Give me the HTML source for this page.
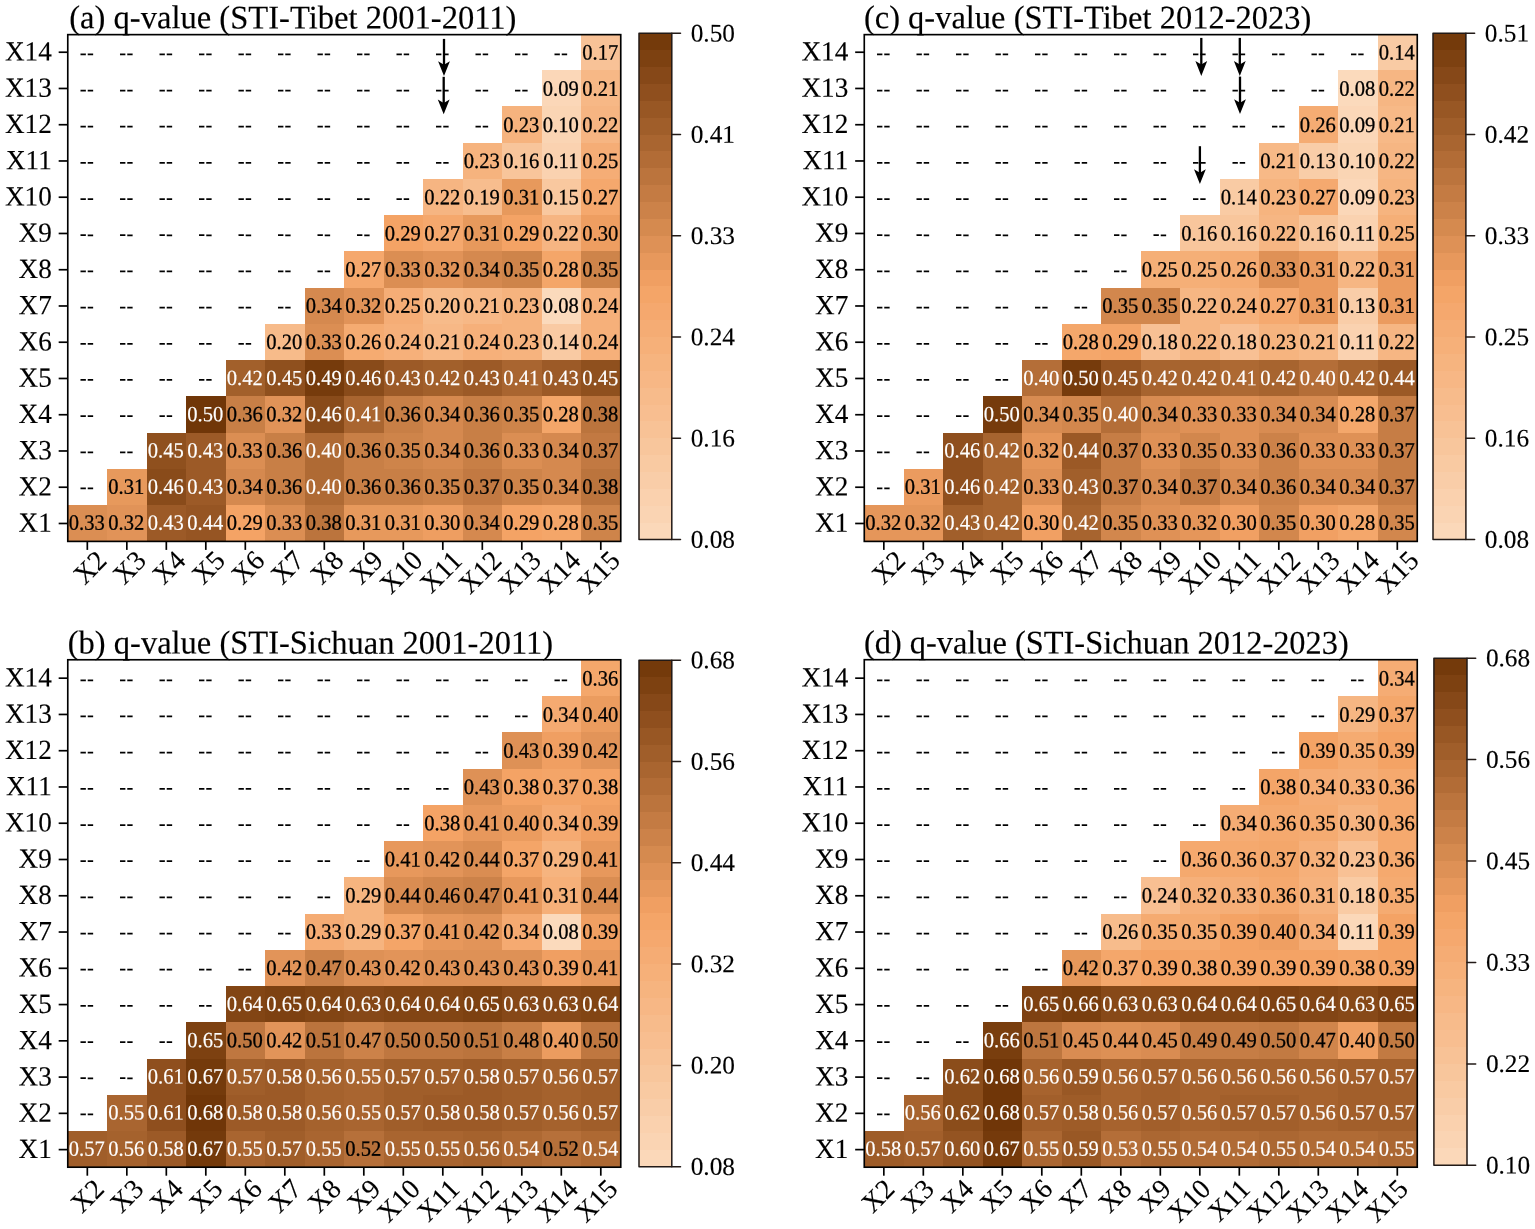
<!DOCTYPE html>
<html lang="en"><head><meta charset="utf-8"><title>q-value heatmaps</title>
<style>
html,body{margin:0;padding:0;background:#fff;}
body{width:1535px;height:1229px;overflow:hidden;}
svg{display:block;}
text{font-family:"Liberation Serif",serif;fill:#000;stroke:#000;stroke-width:0.14;text-rendering:geometricPrecision;}
.tl{font-size:27.2px;}
.tt{font-size:32.65px;}
.cl{font-size:25.3px;}
.cv{font-size:20.6px;text-anchor:middle;stroke-width:0.26;}
.w{fill:#fff;stroke:#fff;stroke-width:0.15;}
.hy{stroke-width:0.05;letter-spacing:0.6px;}
.ax{fill:none;stroke:#000;stroke-width:1.65;}
.tk{stroke:#000;stroke-width:1.7;fill:none;}
.cb{fill:none;stroke:#221a17;stroke-width:1.5;stroke-linejoin:round;stroke-linecap:round;}
.ar{stroke:#000;stroke-width:2.3;fill:none;}
</style></head><body>
<svg width="1535" height="1229" viewBox="0 0 1535 1229" role="img" aria-label="q-value interaction heatmaps">
<rect width="1535" height="1229" fill="#fff"/>
<g id="panel-a">
<g shape-rendering="crispEdges">
<rect x="581.25" y="33.85" width="39.5" height="36.75" fill="#f8c297"/>
<rect x="541.75" y="70.1" width="40" height="36.75" fill="#fbd7b8"/>
<rect x="581.25" y="70.1" width="39.5" height="36.75" fill="#f7b886"/>
<rect x="502.25" y="106.35" width="40" height="36.75" fill="#f6b37e"/>
<rect x="541.75" y="106.35" width="40" height="36.75" fill="#fad5b4"/>
<rect x="581.25" y="106.35" width="39.5" height="36.75" fill="#f6b582"/>
<rect x="462.76" y="142.6" width="40" height="36.75" fill="#f6b37e"/>
<rect x="502.25" y="142.6" width="40" height="36.75" fill="#f8c59b"/>
<rect x="541.75" y="142.6" width="40" height="36.75" fill="#fad2b0"/>
<rect x="581.25" y="142.6" width="39.5" height="36.75" fill="#f5ad76"/>
<rect x="423.26" y="178.85" width="40" height="36.75" fill="#f6b582"/>
<rect x="462.76" y="178.85" width="40" height="36.75" fill="#f7bd8e"/>
<rect x="502.25" y="178.85" width="40" height="36.75" fill="#e7995c"/>
<rect x="541.75" y="178.85" width="40" height="36.75" fill="#f9c89f"/>
<rect x="581.25" y="178.85" width="39.5" height="36.75" fill="#f5a86d"/>
<rect x="383.76" y="215.1" width="40" height="36.75" fill="#f4a365"/>
<rect x="423.26" y="215.1" width="40" height="36.75" fill="#f5a86d"/>
<rect x="462.76" y="215.1" width="40" height="36.75" fill="#e7995c"/>
<rect x="502.25" y="215.1" width="40" height="36.75" fill="#f4a365"/>
<rect x="541.75" y="215.1" width="40" height="36.75" fill="#f6b582"/>
<rect x="581.25" y="215.1" width="39.5" height="36.75" fill="#ee9e61"/>
<rect x="344.26" y="251.35" width="40" height="36.75" fill="#f5a86d"/>
<rect x="383.76" y="251.35" width="40" height="36.75" fill="#db8e53"/>
<rect x="423.26" y="251.35" width="40" height="36.75" fill="#e19358"/>
<rect x="462.76" y="251.35" width="40" height="36.75" fill="#d5894f"/>
<rect x="502.25" y="251.35" width="40" height="36.75" fill="#ce844a"/>
<rect x="541.75" y="251.35" width="40" height="36.75" fill="#f4a669"/>
<rect x="581.25" y="251.35" width="39.5" height="36.75" fill="#ce844a"/>
<rect x="304.76" y="287.6" width="40" height="36.75" fill="#d5894f"/>
<rect x="344.26" y="287.6" width="40" height="36.75" fill="#e19358"/>
<rect x="383.76" y="287.6" width="40" height="36.75" fill="#f5ad76"/>
<rect x="423.26" y="287.6" width="40" height="36.75" fill="#f7bb8a"/>
<rect x="462.76" y="287.6" width="40" height="36.75" fill="#f7b886"/>
<rect x="502.25" y="287.6" width="40" height="36.75" fill="#f6b37e"/>
<rect x="541.75" y="287.6" width="40" height="36.75" fill="#fbdabc"/>
<rect x="581.25" y="287.6" width="39.5" height="36.75" fill="#f6b07a"/>
<rect x="265.26" y="323.85" width="40" height="36.75" fill="#f7bb8a"/>
<rect x="304.76" y="323.85" width="40" height="36.75" fill="#db8e53"/>
<rect x="344.26" y="323.85" width="40" height="36.75" fill="#f5ab71"/>
<rect x="383.76" y="323.85" width="40" height="36.75" fill="#f6b07a"/>
<rect x="423.26" y="323.85" width="40" height="36.75" fill="#f7b886"/>
<rect x="462.76" y="323.85" width="40" height="36.75" fill="#f6b07a"/>
<rect x="502.25" y="323.85" width="40" height="36.75" fill="#f6b37e"/>
<rect x="541.75" y="323.85" width="40" height="36.75" fill="#f9caa3"/>
<rect x="581.25" y="323.85" width="39.5" height="36.75" fill="#f6b07a"/>
<rect x="225.76" y="360.1" width="40" height="36.75" fill="#a2602b"/>
<rect x="265.26" y="360.1" width="40" height="36.75" fill="#8f501e"/>
<rect x="304.76" y="360.1" width="40" height="36.75" fill="#763b0c"/>
<rect x="344.26" y="360.1" width="40" height="36.75" fill="#894b1a"/>
<rect x="383.76" y="360.1" width="40" height="36.75" fill="#9c5a27"/>
<rect x="423.26" y="360.1" width="40" height="36.75" fill="#a2602b"/>
<rect x="462.76" y="360.1" width="40" height="36.75" fill="#9c5a27"/>
<rect x="502.25" y="360.1" width="40" height="36.75" fill="#a96530"/>
<rect x="541.75" y="360.1" width="40" height="36.75" fill="#9c5a27"/>
<rect x="581.25" y="360.1" width="39.5" height="36.75" fill="#8f501e"/>
<rect x="186.27" y="396.35" width="40" height="36.75" fill="#703608"/>
<rect x="225.76" y="396.35" width="40" height="36.75" fill="#c87f46"/>
<rect x="265.26" y="396.35" width="40" height="36.75" fill="#e19358"/>
<rect x="304.76" y="396.35" width="40" height="36.75" fill="#894b1a"/>
<rect x="344.26" y="396.35" width="40" height="36.75" fill="#a96530"/>
<rect x="383.76" y="396.35" width="40" height="36.75" fill="#c87f46"/>
<rect x="423.26" y="396.35" width="40" height="36.75" fill="#d5894f"/>
<rect x="462.76" y="396.35" width="40" height="36.75" fill="#c87f46"/>
<rect x="502.25" y="396.35" width="40" height="36.75" fill="#ce844a"/>
<rect x="541.75" y="396.35" width="40" height="36.75" fill="#f4a669"/>
<rect x="581.25" y="396.35" width="39.5" height="36.75" fill="#bb743d"/>
<rect x="146.77" y="432.6" width="40" height="36.75" fill="#8f501e"/>
<rect x="186.27" y="432.6" width="40" height="36.75" fill="#9c5a27"/>
<rect x="225.76" y="432.6" width="40" height="36.75" fill="#db8e53"/>
<rect x="265.26" y="432.6" width="40" height="36.75" fill="#c87f46"/>
<rect x="304.76" y="432.6" width="40" height="36.75" fill="#af6a34"/>
<rect x="344.26" y="432.6" width="40" height="36.75" fill="#c87f46"/>
<rect x="383.76" y="432.6" width="40" height="36.75" fill="#ce844a"/>
<rect x="423.26" y="432.6" width="40" height="36.75" fill="#d5894f"/>
<rect x="462.76" y="432.6" width="40" height="36.75" fill="#c87f46"/>
<rect x="502.25" y="432.6" width="40" height="36.75" fill="#db8e53"/>
<rect x="541.75" y="432.6" width="40" height="36.75" fill="#d5894f"/>
<rect x="581.25" y="432.6" width="39.5" height="36.75" fill="#c27942"/>
<rect x="107.27" y="468.85" width="40" height="36.75" fill="#e7995c"/>
<rect x="146.77" y="468.85" width="40" height="36.75" fill="#894b1a"/>
<rect x="186.27" y="468.85" width="40" height="36.75" fill="#9c5a27"/>
<rect x="225.76" y="468.85" width="40" height="36.75" fill="#d5894f"/>
<rect x="265.26" y="468.85" width="40" height="36.75" fill="#c87f46"/>
<rect x="304.76" y="468.85" width="40" height="36.75" fill="#af6a34"/>
<rect x="344.26" y="468.85" width="40" height="36.75" fill="#c87f46"/>
<rect x="383.76" y="468.85" width="40" height="36.75" fill="#c87f46"/>
<rect x="423.26" y="468.85" width="40" height="36.75" fill="#ce844a"/>
<rect x="462.76" y="468.85" width="40" height="36.75" fill="#c27942"/>
<rect x="502.25" y="468.85" width="40" height="36.75" fill="#ce844a"/>
<rect x="541.75" y="468.85" width="40" height="36.75" fill="#d5894f"/>
<rect x="581.25" y="468.85" width="39.5" height="36.75" fill="#bb743d"/>
<rect x="67.77" y="505.1" width="40" height="36.25" fill="#db8e53"/>
<rect x="107.27" y="505.1" width="40" height="36.25" fill="#e19358"/>
<rect x="146.77" y="505.1" width="40" height="36.25" fill="#9c5a27"/>
<rect x="186.27" y="505.1" width="40" height="36.25" fill="#965523"/>
<rect x="225.76" y="505.1" width="40" height="36.25" fill="#f4a365"/>
<rect x="265.26" y="505.1" width="40" height="36.25" fill="#db8e53"/>
<rect x="304.76" y="505.1" width="40" height="36.25" fill="#bb743d"/>
<rect x="344.26" y="505.1" width="40" height="36.25" fill="#e7995c"/>
<rect x="383.76" y="505.1" width="40" height="36.25" fill="#e7995c"/>
<rect x="423.26" y="505.1" width="40" height="36.25" fill="#ee9e61"/>
<rect x="462.76" y="505.1" width="40" height="36.25" fill="#d5894f"/>
<rect x="502.25" y="505.1" width="40" height="36.25" fill="#f4a365"/>
<rect x="541.75" y="505.1" width="40" height="36.25" fill="#f4a669"/>
<rect x="581.25" y="505.1" width="39.5" height="36.25" fill="#ce844a"/>
</g>
<g>
<text class="cv hy" transform="translate(87.12 59.5) matrix(1 .001 0 1 0 0) scale(1 1.06)">--</text>
<text class="cv hy" transform="translate(126.62 59.5) matrix(1 .001 0 1 0 0) scale(1 1.06)">--</text>
<text class="cv hy" transform="translate(166.12 59.5) matrix(1 .001 0 1 0 0) scale(1 1.06)">--</text>
<text class="cv hy" transform="translate(205.62 59.5) matrix(1 .001 0 1 0 0) scale(1 1.06)">--</text>
<text class="cv hy" transform="translate(245.11 59.5) matrix(1 .001 0 1 0 0) scale(1 1.06)">--</text>
<text class="cv hy" transform="translate(284.61 59.5) matrix(1 .001 0 1 0 0) scale(1 1.06)">--</text>
<text class="cv hy" transform="translate(324.11 59.5) matrix(1 .001 0 1 0 0) scale(1 1.06)">--</text>
<text class="cv hy" transform="translate(363.61 59.5) matrix(1 .001 0 1 0 0) scale(1 1.06)">--</text>
<text class="cv hy" transform="translate(403.11 59.5) matrix(1 .001 0 1 0 0) scale(1 1.06)">--</text>
<text class="cv hy" transform="translate(442.61 59.5) matrix(1 .001 0 1 0 0) scale(1 1.06)">--</text>
<text class="cv hy" transform="translate(482.11 59.5) matrix(1 .001 0 1 0 0) scale(1 1.06)">--</text>
<text class="cv hy" transform="translate(521.6 59.5) matrix(1 .001 0 1 0 0) scale(1 1.06)">--</text>
<text class="cv hy" transform="translate(561.1 59.5) matrix(1 .001 0 1 0 0) scale(1 1.06)">--</text>
<text class="cv" transform="translate(600.3 59.55) matrix(1 .001 0 1 0 0) scale(1 1.06)">0.17</text>
<text class="cv hy" transform="translate(87.12 95.67) matrix(1 .001 0 1 0 0) scale(1 1.06)">--</text>
<text class="cv hy" transform="translate(126.62 95.67) matrix(1 .001 0 1 0 0) scale(1 1.06)">--</text>
<text class="cv hy" transform="translate(166.12 95.67) matrix(1 .001 0 1 0 0) scale(1 1.06)">--</text>
<text class="cv hy" transform="translate(205.62 95.67) matrix(1 .001 0 1 0 0) scale(1 1.06)">--</text>
<text class="cv hy" transform="translate(245.11 95.67) matrix(1 .001 0 1 0 0) scale(1 1.06)">--</text>
<text class="cv hy" transform="translate(284.61 95.67) matrix(1 .001 0 1 0 0) scale(1 1.06)">--</text>
<text class="cv hy" transform="translate(324.11 95.67) matrix(1 .001 0 1 0 0) scale(1 1.06)">--</text>
<text class="cv hy" transform="translate(363.61 95.67) matrix(1 .001 0 1 0 0) scale(1 1.06)">--</text>
<text class="cv hy" transform="translate(403.11 95.67) matrix(1 .001 0 1 0 0) scale(1 1.06)">--</text>
<text class="cv hy" transform="translate(442.61 95.67) matrix(1 .001 0 1 0 0) scale(1 1.06)">--</text>
<text class="cv hy" transform="translate(482.11 95.67) matrix(1 .001 0 1 0 0) scale(1 1.06)">--</text>
<text class="cv hy" transform="translate(521.6 95.67) matrix(1 .001 0 1 0 0) scale(1 1.06)">--</text>
<text class="cv" transform="translate(560.8 95.72) matrix(1 .001 0 1 0 0) scale(1 1.06)">0.09</text>
<text class="cv" transform="translate(600.3 95.72) matrix(1 .001 0 1 0 0) scale(1 1.06)">0.21</text>
<text class="cv hy" transform="translate(87.12 131.85) matrix(1 .001 0 1 0 0) scale(1 1.06)">--</text>
<text class="cv hy" transform="translate(126.62 131.85) matrix(1 .001 0 1 0 0) scale(1 1.06)">--</text>
<text class="cv hy" transform="translate(166.12 131.85) matrix(1 .001 0 1 0 0) scale(1 1.06)">--</text>
<text class="cv hy" transform="translate(205.62 131.85) matrix(1 .001 0 1 0 0) scale(1 1.06)">--</text>
<text class="cv hy" transform="translate(245.11 131.85) matrix(1 .001 0 1 0 0) scale(1 1.06)">--</text>
<text class="cv hy" transform="translate(284.61 131.85) matrix(1 .001 0 1 0 0) scale(1 1.06)">--</text>
<text class="cv hy" transform="translate(324.11 131.85) matrix(1 .001 0 1 0 0) scale(1 1.06)">--</text>
<text class="cv hy" transform="translate(363.61 131.85) matrix(1 .001 0 1 0 0) scale(1 1.06)">--</text>
<text class="cv hy" transform="translate(403.11 131.85) matrix(1 .001 0 1 0 0) scale(1 1.06)">--</text>
<text class="cv hy" transform="translate(442.61 131.85) matrix(1 .001 0 1 0 0) scale(1 1.06)">--</text>
<text class="cv hy" transform="translate(482.11 131.85) matrix(1 .001 0 1 0 0) scale(1 1.06)">--</text>
<text class="cv" transform="translate(521.3 131.9) matrix(1 .001 0 1 0 0) scale(1 1.06)">0.23</text>
<text class="cv" transform="translate(560.8 131.9) matrix(1 .001 0 1 0 0) scale(1 1.06)">0.10</text>
<text class="cv" transform="translate(600.3 131.9) matrix(1 .001 0 1 0 0) scale(1 1.06)">0.22</text>
<text class="cv hy" transform="translate(87.12 168.02) matrix(1 .001 0 1 0 0) scale(1 1.06)">--</text>
<text class="cv hy" transform="translate(126.62 168.02) matrix(1 .001 0 1 0 0) scale(1 1.06)">--</text>
<text class="cv hy" transform="translate(166.12 168.02) matrix(1 .001 0 1 0 0) scale(1 1.06)">--</text>
<text class="cv hy" transform="translate(205.62 168.02) matrix(1 .001 0 1 0 0) scale(1 1.06)">--</text>
<text class="cv hy" transform="translate(245.11 168.02) matrix(1 .001 0 1 0 0) scale(1 1.06)">--</text>
<text class="cv hy" transform="translate(284.61 168.02) matrix(1 .001 0 1 0 0) scale(1 1.06)">--</text>
<text class="cv hy" transform="translate(324.11 168.02) matrix(1 .001 0 1 0 0) scale(1 1.06)">--</text>
<text class="cv hy" transform="translate(363.61 168.02) matrix(1 .001 0 1 0 0) scale(1 1.06)">--</text>
<text class="cv hy" transform="translate(403.11 168.02) matrix(1 .001 0 1 0 0) scale(1 1.06)">--</text>
<text class="cv hy" transform="translate(442.61 168.02) matrix(1 .001 0 1 0 0) scale(1 1.06)">--</text>
<text class="cv" transform="translate(481.81 168.07) matrix(1 .001 0 1 0 0) scale(1 1.06)">0.23</text>
<text class="cv" transform="translate(521.3 168.07) matrix(1 .001 0 1 0 0) scale(1 1.06)">0.16</text>
<text class="cv" transform="translate(560.8 168.07) matrix(1 .001 0 1 0 0) scale(1 1.06)">0.11</text>
<text class="cv" transform="translate(600.3 168.07) matrix(1 .001 0 1 0 0) scale(1 1.06)">0.25</text>
<text class="cv hy" transform="translate(87.12 204.2) matrix(1 .001 0 1 0 0) scale(1 1.06)">--</text>
<text class="cv hy" transform="translate(126.62 204.2) matrix(1 .001 0 1 0 0) scale(1 1.06)">--</text>
<text class="cv hy" transform="translate(166.12 204.2) matrix(1 .001 0 1 0 0) scale(1 1.06)">--</text>
<text class="cv hy" transform="translate(205.62 204.2) matrix(1 .001 0 1 0 0) scale(1 1.06)">--</text>
<text class="cv hy" transform="translate(245.11 204.2) matrix(1 .001 0 1 0 0) scale(1 1.06)">--</text>
<text class="cv hy" transform="translate(284.61 204.2) matrix(1 .001 0 1 0 0) scale(1 1.06)">--</text>
<text class="cv hy" transform="translate(324.11 204.2) matrix(1 .001 0 1 0 0) scale(1 1.06)">--</text>
<text class="cv hy" transform="translate(363.61 204.2) matrix(1 .001 0 1 0 0) scale(1 1.06)">--</text>
<text class="cv hy" transform="translate(403.11 204.2) matrix(1 .001 0 1 0 0) scale(1 1.06)">--</text>
<text class="cv" transform="translate(442.31 204.25) matrix(1 .001 0 1 0 0) scale(1 1.06)">0.22</text>
<text class="cv" transform="translate(481.81 204.25) matrix(1 .001 0 1 0 0) scale(1 1.06)">0.19</text>
<text class="cv" transform="translate(521.3 204.25) matrix(1 .001 0 1 0 0) scale(1 1.06)">0.31</text>
<text class="cv" transform="translate(560.8 204.25) matrix(1 .001 0 1 0 0) scale(1 1.06)">0.15</text>
<text class="cv" transform="translate(600.3 204.25) matrix(1 .001 0 1 0 0) scale(1 1.06)">0.27</text>
<text class="cv hy" transform="translate(87.12 240.38) matrix(1 .001 0 1 0 0) scale(1 1.06)">--</text>
<text class="cv hy" transform="translate(126.62 240.38) matrix(1 .001 0 1 0 0) scale(1 1.06)">--</text>
<text class="cv hy" transform="translate(166.12 240.38) matrix(1 .001 0 1 0 0) scale(1 1.06)">--</text>
<text class="cv hy" transform="translate(205.62 240.38) matrix(1 .001 0 1 0 0) scale(1 1.06)">--</text>
<text class="cv hy" transform="translate(245.11 240.38) matrix(1 .001 0 1 0 0) scale(1 1.06)">--</text>
<text class="cv hy" transform="translate(284.61 240.38) matrix(1 .001 0 1 0 0) scale(1 1.06)">--</text>
<text class="cv hy" transform="translate(324.11 240.38) matrix(1 .001 0 1 0 0) scale(1 1.06)">--</text>
<text class="cv hy" transform="translate(363.61 240.38) matrix(1 .001 0 1 0 0) scale(1 1.06)">--</text>
<text class="cv" transform="translate(402.81 240.43) matrix(1 .001 0 1 0 0) scale(1 1.06)">0.29</text>
<text class="cv" transform="translate(442.31 240.43) matrix(1 .001 0 1 0 0) scale(1 1.06)">0.27</text>
<text class="cv" transform="translate(481.81 240.43) matrix(1 .001 0 1 0 0) scale(1 1.06)">0.31</text>
<text class="cv" transform="translate(521.3 240.43) matrix(1 .001 0 1 0 0) scale(1 1.06)">0.29</text>
<text class="cv" transform="translate(560.8 240.43) matrix(1 .001 0 1 0 0) scale(1 1.06)">0.22</text>
<text class="cv" transform="translate(600.3 240.43) matrix(1 .001 0 1 0 0) scale(1 1.06)">0.30</text>
<text class="cv hy" transform="translate(87.12 276.55) matrix(1 .001 0 1 0 0) scale(1 1.06)">--</text>
<text class="cv hy" transform="translate(126.62 276.55) matrix(1 .001 0 1 0 0) scale(1 1.06)">--</text>
<text class="cv hy" transform="translate(166.12 276.55) matrix(1 .001 0 1 0 0) scale(1 1.06)">--</text>
<text class="cv hy" transform="translate(205.62 276.55) matrix(1 .001 0 1 0 0) scale(1 1.06)">--</text>
<text class="cv hy" transform="translate(245.11 276.55) matrix(1 .001 0 1 0 0) scale(1 1.06)">--</text>
<text class="cv hy" transform="translate(284.61 276.55) matrix(1 .001 0 1 0 0) scale(1 1.06)">--</text>
<text class="cv hy" transform="translate(324.11 276.55) matrix(1 .001 0 1 0 0) scale(1 1.06)">--</text>
<text class="cv" transform="translate(363.31 276.6) matrix(1 .001 0 1 0 0) scale(1 1.06)">0.27</text>
<text class="cv" transform="translate(402.81 276.6) matrix(1 .001 0 1 0 0) scale(1 1.06)">0.33</text>
<text class="cv" transform="translate(442.31 276.6) matrix(1 .001 0 1 0 0) scale(1 1.06)">0.32</text>
<text class="cv" transform="translate(481.81 276.6) matrix(1 .001 0 1 0 0) scale(1 1.06)">0.34</text>
<text class="cv" transform="translate(521.3 276.6) matrix(1 .001 0 1 0 0) scale(1 1.06)">0.35</text>
<text class="cv" transform="translate(560.8 276.6) matrix(1 .001 0 1 0 0) scale(1 1.06)">0.28</text>
<text class="cv" transform="translate(600.3 276.6) matrix(1 .001 0 1 0 0) scale(1 1.06)">0.35</text>
<text class="cv hy" transform="translate(87.12 312.72) matrix(1 .001 0 1 0 0) scale(1 1.06)">--</text>
<text class="cv hy" transform="translate(126.62 312.72) matrix(1 .001 0 1 0 0) scale(1 1.06)">--</text>
<text class="cv hy" transform="translate(166.12 312.72) matrix(1 .001 0 1 0 0) scale(1 1.06)">--</text>
<text class="cv hy" transform="translate(205.62 312.72) matrix(1 .001 0 1 0 0) scale(1 1.06)">--</text>
<text class="cv hy" transform="translate(245.11 312.72) matrix(1 .001 0 1 0 0) scale(1 1.06)">--</text>
<text class="cv hy" transform="translate(284.61 312.72) matrix(1 .001 0 1 0 0) scale(1 1.06)">--</text>
<text class="cv" transform="translate(323.81 312.77) matrix(1 .001 0 1 0 0) scale(1 1.06)">0.34</text>
<text class="cv" transform="translate(363.31 312.77) matrix(1 .001 0 1 0 0) scale(1 1.06)">0.32</text>
<text class="cv" transform="translate(402.81 312.77) matrix(1 .001 0 1 0 0) scale(1 1.06)">0.25</text>
<text class="cv" transform="translate(442.31 312.77) matrix(1 .001 0 1 0 0) scale(1 1.06)">0.20</text>
<text class="cv" transform="translate(481.81 312.77) matrix(1 .001 0 1 0 0) scale(1 1.06)">0.21</text>
<text class="cv" transform="translate(521.3 312.77) matrix(1 .001 0 1 0 0) scale(1 1.06)">0.23</text>
<text class="cv" transform="translate(560.8 312.77) matrix(1 .001 0 1 0 0) scale(1 1.06)">0.08</text>
<text class="cv" transform="translate(600.3 312.77) matrix(1 .001 0 1 0 0) scale(1 1.06)">0.24</text>
<text class="cv hy" transform="translate(87.12 348.9) matrix(1 .001 0 1 0 0) scale(1 1.06)">--</text>
<text class="cv hy" transform="translate(126.62 348.9) matrix(1 .001 0 1 0 0) scale(1 1.06)">--</text>
<text class="cv hy" transform="translate(166.12 348.9) matrix(1 .001 0 1 0 0) scale(1 1.06)">--</text>
<text class="cv hy" transform="translate(205.62 348.9) matrix(1 .001 0 1 0 0) scale(1 1.06)">--</text>
<text class="cv hy" transform="translate(245.11 348.9) matrix(1 .001 0 1 0 0) scale(1 1.06)">--</text>
<text class="cv" transform="translate(284.31 348.95) matrix(1 .001 0 1 0 0) scale(1 1.06)">0.20</text>
<text class="cv" transform="translate(323.81 348.95) matrix(1 .001 0 1 0 0) scale(1 1.06)">0.33</text>
<text class="cv" transform="translate(363.31 348.95) matrix(1 .001 0 1 0 0) scale(1 1.06)">0.26</text>
<text class="cv" transform="translate(402.81 348.95) matrix(1 .001 0 1 0 0) scale(1 1.06)">0.24</text>
<text class="cv" transform="translate(442.31 348.95) matrix(1 .001 0 1 0 0) scale(1 1.06)">0.21</text>
<text class="cv" transform="translate(481.81 348.95) matrix(1 .001 0 1 0 0) scale(1 1.06)">0.24</text>
<text class="cv" transform="translate(521.3 348.95) matrix(1 .001 0 1 0 0) scale(1 1.06)">0.23</text>
<text class="cv" transform="translate(560.8 348.95) matrix(1 .001 0 1 0 0) scale(1 1.06)">0.14</text>
<text class="cv" transform="translate(600.3 348.95) matrix(1 .001 0 1 0 0) scale(1 1.06)">0.24</text>
<text class="cv hy" transform="translate(87.12 385.07) matrix(1 .001 0 1 0 0) scale(1 1.06)">--</text>
<text class="cv hy" transform="translate(126.62 385.07) matrix(1 .001 0 1 0 0) scale(1 1.06)">--</text>
<text class="cv hy" transform="translate(166.12 385.07) matrix(1 .001 0 1 0 0) scale(1 1.06)">--</text>
<text class="cv hy" transform="translate(205.62 385.07) matrix(1 .001 0 1 0 0) scale(1 1.06)">--</text>
<text class="cv w" transform="translate(244.81 385.12) matrix(1 .001 0 1 0 0) scale(1 1.06)">0.42</text>
<text class="cv w" transform="translate(284.31 385.12) matrix(1 .001 0 1 0 0) scale(1 1.06)">0.45</text>
<text class="cv w" transform="translate(323.81 385.12) matrix(1 .001 0 1 0 0) scale(1 1.06)">0.49</text>
<text class="cv w" transform="translate(363.31 385.12) matrix(1 .001 0 1 0 0) scale(1 1.06)">0.46</text>
<text class="cv w" transform="translate(402.81 385.12) matrix(1 .001 0 1 0 0) scale(1 1.06)">0.43</text>
<text class="cv w" transform="translate(442.31 385.12) matrix(1 .001 0 1 0 0) scale(1 1.06)">0.42</text>
<text class="cv w" transform="translate(481.81 385.12) matrix(1 .001 0 1 0 0) scale(1 1.06)">0.43</text>
<text class="cv w" transform="translate(521.3 385.12) matrix(1 .001 0 1 0 0) scale(1 1.06)">0.41</text>
<text class="cv w" transform="translate(560.8 385.12) matrix(1 .001 0 1 0 0) scale(1 1.06)">0.43</text>
<text class="cv w" transform="translate(600.3 385.12) matrix(1 .001 0 1 0 0) scale(1 1.06)">0.45</text>
<text class="cv hy" transform="translate(87.12 421.25) matrix(1 .001 0 1 0 0) scale(1 1.06)">--</text>
<text class="cv hy" transform="translate(126.62 421.25) matrix(1 .001 0 1 0 0) scale(1 1.06)">--</text>
<text class="cv hy" transform="translate(166.12 421.25) matrix(1 .001 0 1 0 0) scale(1 1.06)">--</text>
<text class="cv w" transform="translate(205.31 421.3) matrix(1 .001 0 1 0 0) scale(1 1.06)">0.50</text>
<text class="cv" transform="translate(244.81 421.3) matrix(1 .001 0 1 0 0) scale(1 1.06)">0.36</text>
<text class="cv" transform="translate(284.31 421.3) matrix(1 .001 0 1 0 0) scale(1 1.06)">0.32</text>
<text class="cv w" transform="translate(323.81 421.3) matrix(1 .001 0 1 0 0) scale(1 1.06)">0.46</text>
<text class="cv w" transform="translate(363.31 421.3) matrix(1 .001 0 1 0 0) scale(1 1.06)">0.41</text>
<text class="cv" transform="translate(402.81 421.3) matrix(1 .001 0 1 0 0) scale(1 1.06)">0.36</text>
<text class="cv" transform="translate(442.31 421.3) matrix(1 .001 0 1 0 0) scale(1 1.06)">0.34</text>
<text class="cv" transform="translate(481.81 421.3) matrix(1 .001 0 1 0 0) scale(1 1.06)">0.36</text>
<text class="cv" transform="translate(521.3 421.3) matrix(1 .001 0 1 0 0) scale(1 1.06)">0.35</text>
<text class="cv" transform="translate(560.8 421.3) matrix(1 .001 0 1 0 0) scale(1 1.06)">0.28</text>
<text class="cv" transform="translate(600.3 421.3) matrix(1 .001 0 1 0 0) scale(1 1.06)">0.38</text>
<text class="cv hy" transform="translate(87.12 457.42) matrix(1 .001 0 1 0 0) scale(1 1.06)">--</text>
<text class="cv hy" transform="translate(126.62 457.42) matrix(1 .001 0 1 0 0) scale(1 1.06)">--</text>
<text class="cv w" transform="translate(165.82 457.47) matrix(1 .001 0 1 0 0) scale(1 1.06)">0.45</text>
<text class="cv w" transform="translate(205.31 457.47) matrix(1 .001 0 1 0 0) scale(1 1.06)">0.43</text>
<text class="cv" transform="translate(244.81 457.47) matrix(1 .001 0 1 0 0) scale(1 1.06)">0.33</text>
<text class="cv" transform="translate(284.31 457.47) matrix(1 .001 0 1 0 0) scale(1 1.06)">0.36</text>
<text class="cv w" transform="translate(323.81 457.47) matrix(1 .001 0 1 0 0) scale(1 1.06)">0.40</text>
<text class="cv" transform="translate(363.31 457.47) matrix(1 .001 0 1 0 0) scale(1 1.06)">0.36</text>
<text class="cv" transform="translate(402.81 457.47) matrix(1 .001 0 1 0 0) scale(1 1.06)">0.35</text>
<text class="cv" transform="translate(442.31 457.47) matrix(1 .001 0 1 0 0) scale(1 1.06)">0.34</text>
<text class="cv" transform="translate(481.81 457.47) matrix(1 .001 0 1 0 0) scale(1 1.06)">0.36</text>
<text class="cv" transform="translate(521.3 457.47) matrix(1 .001 0 1 0 0) scale(1 1.06)">0.33</text>
<text class="cv" transform="translate(560.8 457.47) matrix(1 .001 0 1 0 0) scale(1 1.06)">0.34</text>
<text class="cv" transform="translate(600.3 457.47) matrix(1 .001 0 1 0 0) scale(1 1.06)">0.37</text>
<text class="cv hy" transform="translate(87.12 493.6) matrix(1 .001 0 1 0 0) scale(1 1.06)">--</text>
<text class="cv" transform="translate(126.32 493.65) matrix(1 .001 0 1 0 0) scale(1 1.06)">0.31</text>
<text class="cv w" transform="translate(165.82 493.65) matrix(1 .001 0 1 0 0) scale(1 1.06)">0.46</text>
<text class="cv w" transform="translate(205.31 493.65) matrix(1 .001 0 1 0 0) scale(1 1.06)">0.43</text>
<text class="cv" transform="translate(244.81 493.65) matrix(1 .001 0 1 0 0) scale(1 1.06)">0.34</text>
<text class="cv" transform="translate(284.31 493.65) matrix(1 .001 0 1 0 0) scale(1 1.06)">0.36</text>
<text class="cv w" transform="translate(323.81 493.65) matrix(1 .001 0 1 0 0) scale(1 1.06)">0.40</text>
<text class="cv" transform="translate(363.31 493.65) matrix(1 .001 0 1 0 0) scale(1 1.06)">0.36</text>
<text class="cv" transform="translate(402.81 493.65) matrix(1 .001 0 1 0 0) scale(1 1.06)">0.36</text>
<text class="cv" transform="translate(442.31 493.65) matrix(1 .001 0 1 0 0) scale(1 1.06)">0.35</text>
<text class="cv" transform="translate(481.81 493.65) matrix(1 .001 0 1 0 0) scale(1 1.06)">0.37</text>
<text class="cv" transform="translate(521.3 493.65) matrix(1 .001 0 1 0 0) scale(1 1.06)">0.35</text>
<text class="cv" transform="translate(560.8 493.65) matrix(1 .001 0 1 0 0) scale(1 1.06)">0.34</text>
<text class="cv" transform="translate(600.3 493.65) matrix(1 .001 0 1 0 0) scale(1 1.06)">0.38</text>
<text class="cv" transform="translate(86.82 529.82) matrix(1 .001 0 1 0 0) scale(1 1.06)">0.33</text>
<text class="cv" transform="translate(126.32 529.82) matrix(1 .001 0 1 0 0) scale(1 1.06)">0.32</text>
<text class="cv w" transform="translate(165.82 529.82) matrix(1 .001 0 1 0 0) scale(1 1.06)">0.43</text>
<text class="cv w" transform="translate(205.31 529.82) matrix(1 .001 0 1 0 0) scale(1 1.06)">0.44</text>
<text class="cv" transform="translate(244.81 529.82) matrix(1 .001 0 1 0 0) scale(1 1.06)">0.29</text>
<text class="cv" transform="translate(284.31 529.82) matrix(1 .001 0 1 0 0) scale(1 1.06)">0.33</text>
<text class="cv" transform="translate(323.81 529.82) matrix(1 .001 0 1 0 0) scale(1 1.06)">0.38</text>
<text class="cv" transform="translate(363.31 529.82) matrix(1 .001 0 1 0 0) scale(1 1.06)">0.31</text>
<text class="cv" transform="translate(402.81 529.82) matrix(1 .001 0 1 0 0) scale(1 1.06)">0.31</text>
<text class="cv" transform="translate(442.31 529.82) matrix(1 .001 0 1 0 0) scale(1 1.06)">0.30</text>
<text class="cv" transform="translate(481.81 529.82) matrix(1 .001 0 1 0 0) scale(1 1.06)">0.34</text>
<text class="cv" transform="translate(521.3 529.82) matrix(1 .001 0 1 0 0) scale(1 1.06)">0.29</text>
<text class="cv" transform="translate(560.8 529.82) matrix(1 .001 0 1 0 0) scale(1 1.06)">0.28</text>
<text class="cv" transform="translate(600.3 529.82) matrix(1 .001 0 1 0 0) scale(1 1.06)">0.35</text>
</g>
<rect class="ax" x="67.77" y="34.64" width="552.98" height="506.76"/>
<path class="tk" d="M58.67 52.23H67.77"/>
<text class="tl" text-anchor="end" transform="translate(51.77 60.58) matrix(1 .001 0 1 0 0) scale(1 1.02)">X14</text>
<path class="tk" d="M58.67 88.47H67.77"/>
<text class="tl" text-anchor="end" transform="translate(51.77 96.82) matrix(1 .001 0 1 0 0) scale(1 1.02)">X13</text>
<path class="tk" d="M58.67 124.72H67.77"/>
<text class="tl" text-anchor="end" transform="translate(51.77 133.07) matrix(1 .001 0 1 0 0) scale(1 1.02)">X12</text>
<path class="tk" d="M58.67 160.97H67.77"/>
<text class="tl" text-anchor="end" transform="translate(51.77 169.32) matrix(1 .001 0 1 0 0) scale(1 1.02)">X11</text>
<path class="tk" d="M58.67 197.22H67.77"/>
<text class="tl" text-anchor="end" transform="translate(51.77 205.57) matrix(1 .001 0 1 0 0) scale(1 1.02)">X10</text>
<path class="tk" d="M58.67 233.47H67.77"/>
<text class="tl" text-anchor="end" transform="translate(51.77 241.82) matrix(1 .001 0 1 0 0) scale(1 1.02)">X9</text>
<path class="tk" d="M58.67 269.73H67.77"/>
<text class="tl" text-anchor="end" transform="translate(51.77 278.08) matrix(1 .001 0 1 0 0) scale(1 1.02)">X8</text>
<path class="tk" d="M58.67 305.98H67.77"/>
<text class="tl" text-anchor="end" transform="translate(51.77 314.33) matrix(1 .001 0 1 0 0) scale(1 1.02)">X7</text>
<path class="tk" d="M58.67 342.23H67.77"/>
<text class="tl" text-anchor="end" transform="translate(51.77 350.58) matrix(1 .001 0 1 0 0) scale(1 1.02)">X6</text>
<path class="tk" d="M58.67 378.48H67.77"/>
<text class="tl" text-anchor="end" transform="translate(51.77 386.83) matrix(1 .001 0 1 0 0) scale(1 1.02)">X5</text>
<path class="tk" d="M58.67 414.73H67.77"/>
<text class="tl" text-anchor="end" transform="translate(51.77 423.08) matrix(1 .001 0 1 0 0) scale(1 1.02)">X4</text>
<path class="tk" d="M58.67 450.98H67.77"/>
<text class="tl" text-anchor="end" transform="translate(51.77 459.33) matrix(1 .001 0 1 0 0) scale(1 1.02)">X3</text>
<path class="tk" d="M58.67 487.23H67.77"/>
<text class="tl" text-anchor="end" transform="translate(51.77 495.58) matrix(1 .001 0 1 0 0) scale(1 1.02)">X2</text>
<path class="tk" d="M58.67 523.48H67.77"/>
<text class="tl" text-anchor="end" transform="translate(51.77 531.83) matrix(1 .001 0 1 0 0) scale(1 1.02)">X1</text>
<path class="tk" d="M87.32 541.4V549.9"/>
<text class="tl" text-anchor="end" transform="translate(108.22 562.2) rotate(-45) scale(1 1.02)">X2</text>
<path class="tk" d="M126.82 541.4V549.9"/>
<text class="tl" text-anchor="end" transform="translate(147.72 562.2) rotate(-45) scale(1 1.02)">X3</text>
<path class="tk" d="M166.32 541.4V549.9"/>
<text class="tl" text-anchor="end" transform="translate(187.22 562.2) rotate(-45) scale(1 1.02)">X4</text>
<path class="tk" d="M205.81 541.4V549.9"/>
<text class="tl" text-anchor="end" transform="translate(226.71 562.2) rotate(-45) scale(1 1.02)">X5</text>
<path class="tk" d="M245.31 541.4V549.9"/>
<text class="tl" text-anchor="end" transform="translate(266.21 562.2) rotate(-45) scale(1 1.02)">X6</text>
<path class="tk" d="M284.81 541.4V549.9"/>
<text class="tl" text-anchor="end" transform="translate(305.71 562.2) rotate(-45) scale(1 1.02)">X7</text>
<path class="tk" d="M324.31 541.4V549.9"/>
<text class="tl" text-anchor="end" transform="translate(345.21 562.2) rotate(-45) scale(1 1.02)">X8</text>
<path class="tk" d="M363.81 541.4V549.9"/>
<text class="tl" text-anchor="end" transform="translate(384.71 562.2) rotate(-45) scale(1 1.02)">X9</text>
<path class="tk" d="M403.31 541.4V549.9"/>
<text class="tl" text-anchor="end" transform="translate(424.21 562.2) rotate(-45) scale(1 1.02)">X10</text>
<path class="tk" d="M442.81 541.4V549.9"/>
<text class="tl" text-anchor="end" transform="translate(463.71 562.2) rotate(-45) scale(1 1.02)">X11</text>
<path class="tk" d="M482.31 541.4V549.9"/>
<text class="tl" text-anchor="end" transform="translate(503.2 562.2) rotate(-45) scale(1 1.02)">X12</text>
<path class="tk" d="M521.8 541.4V549.9"/>
<text class="tl" text-anchor="end" transform="translate(542.7 562.2) rotate(-45) scale(1 1.02)">X13</text>
<path class="tk" d="M561.3 541.4V549.9"/>
<text class="tl" text-anchor="end" transform="translate(582.2 562.2) rotate(-45) scale(1 1.02)">X14</text>
<path class="tk" d="M600.8 541.4V549.9"/>
<text class="tl" text-anchor="end" transform="translate(621.7 562.2) rotate(-45) scale(1 1.02)">X15</text>
<text class="tt" style="font-size:32.6px" transform="translate(69.2 28.24) matrix(1 .001 0 1 0 0) scale(1 1.02)">(a) q-value (STI-Tibet 2001-2011)</text>
<path class="ar" d="M444 38.9V68.1"/>
<path d="M444 76.1L438.1 61.2L444 64.7L449.9 61.2Z" fill="#000"/>
<path class="ar" d="M443.7 76.8V106.3"/>
<path d="M443.7 114.3L437.8 99.4L443.7 102.9L449.6 99.4Z" fill="#000"/>
<g shape-rendering="crispEdges">
<rect x="639" y="33.3" width="32.8" height="17.38" fill="#743a0b"/>
<rect x="639" y="50.18" width="32.8" height="17.38" fill="#7d4111"/>
<rect x="639" y="67.05" width="32.8" height="17.38" fill="#864818"/>
<rect x="639" y="83.93" width="32.8" height="17.38" fill="#8f4f1e"/>
<rect x="639" y="100.81" width="32.8" height="17.38" fill="#985724"/>
<rect x="639" y="117.68" width="32.8" height="17.38" fill="#a05e2a"/>
<rect x="639" y="134.56" width="32.8" height="17.38" fill="#a96530"/>
<rect x="639" y="151.44" width="32.8" height="17.38" fill="#b26c36"/>
<rect x="639" y="168.31" width="32.8" height="17.38" fill="#bb743d"/>
<rect x="639" y="185.19" width="32.8" height="17.38" fill="#c47b43"/>
<rect x="639" y="202.07" width="32.8" height="17.38" fill="#cc8249"/>
<rect x="639" y="218.94" width="32.8" height="17.38" fill="#d58a4f"/>
<rect x="639" y="235.82" width="32.8" height="17.38" fill="#de9156"/>
<rect x="639" y="252.7" width="32.8" height="17.38" fill="#e7985c"/>
<rect x="639" y="269.57" width="32.8" height="17.38" fill="#f09f62"/>
<rect x="639" y="286.45" width="32.8" height="17.38" fill="#f4a568"/>
<rect x="639" y="303.33" width="32.8" height="17.38" fill="#f5a86e"/>
<rect x="639" y="320.2" width="32.8" height="17.38" fill="#f5ac74"/>
<rect x="639" y="337.08" width="32.8" height="17.38" fill="#f6b079"/>
<rect x="639" y="353.96" width="32.8" height="17.38" fill="#f6b47f"/>
<rect x="639" y="370.83" width="32.8" height="17.38" fill="#f7b785"/>
<rect x="639" y="387.71" width="32.8" height="17.38" fill="#f7bb8b"/>
<rect x="639" y="404.59" width="32.8" height="17.38" fill="#f8be90"/>
<rect x="639" y="421.46" width="32.8" height="17.38" fill="#f8c296"/>
<rect x="639" y="438.34" width="32.8" height="17.38" fill="#f8c69c"/>
<rect x="639" y="455.22" width="32.8" height="17.38" fill="#f9caa2"/>
<rect x="639" y="472.09" width="32.8" height="17.38" fill="#f9cda8"/>
<rect x="639" y="488.97" width="32.8" height="17.38" fill="#fad1ae"/>
<rect x="639" y="505.85" width="32.8" height="17.38" fill="#fad4b3"/>
<rect x="639" y="522.72" width="32.8" height="16.88" fill="#fbd8b9"/>
</g>
<rect class="cb" x="639" y="33.3" width="32.8" height="506.3"/>
<path class="cb" d="M671.8 33.3H680.5"/>
<text class="cl" transform="translate(690.7 41.45) matrix(1 .001 0 1 0 0) scale(1 1)">0.50</text>
<path class="cb" d="M671.8 134.56H680.5"/>
<text class="cl" transform="translate(690.7 142.71) matrix(1 .001 0 1 0 0) scale(1 1)">0.41</text>
<path class="cb" d="M671.8 235.82H680.5"/>
<text class="cl" transform="translate(690.7 243.97) matrix(1 .001 0 1 0 0) scale(1 1)">0.33</text>
<path class="cb" d="M671.8 337.08H680.5"/>
<text class="cl" transform="translate(690.7 345.23) matrix(1 .001 0 1 0 0) scale(1 1)">0.24</text>
<path class="cb" d="M671.8 438.34H680.5"/>
<text class="cl" transform="translate(690.7 446.49) matrix(1 .001 0 1 0 0) scale(1 1)">0.16</text>
<path class="cb" d="M671.8 539.6H680.5"/>
<text class="cl" transform="translate(690.7 547.75) matrix(1 .001 0 1 0 0) scale(1 1)">0.08</text>
</g>
<g id="panel-c">
<g shape-rendering="crispEdges">
<rect x="1377.75" y="33.85" width="39.5" height="36.75" fill="#f9cba4"/>
<rect x="1338.25" y="70.1" width="40" height="36.75" fill="#fbdabc"/>
<rect x="1377.75" y="70.1" width="39.5" height="36.75" fill="#f6b683"/>
<rect x="1298.75" y="106.35" width="40" height="36.75" fill="#f5ac73"/>
<rect x="1338.25" y="106.35" width="40" height="36.75" fill="#fbd7b8"/>
<rect x="1377.75" y="106.35" width="39.5" height="36.75" fill="#f7b987"/>
<rect x="1259.26" y="142.6" width="40" height="36.75" fill="#f7b987"/>
<rect x="1298.75" y="142.6" width="40" height="36.75" fill="#f9cda8"/>
<rect x="1338.25" y="142.6" width="40" height="36.75" fill="#fad5b4"/>
<rect x="1377.75" y="142.6" width="39.5" height="36.75" fill="#f6b683"/>
<rect x="1219.76" y="178.85" width="40" height="36.75" fill="#f9cba4"/>
<rect x="1259.26" y="178.85" width="40" height="36.75" fill="#f6b47f"/>
<rect x="1298.75" y="178.85" width="40" height="36.75" fill="#f5a96f"/>
<rect x="1338.25" y="178.85" width="40" height="36.75" fill="#fbd7b8"/>
<rect x="1377.75" y="178.85" width="39.5" height="36.75" fill="#f6b47f"/>
<rect x="1180.26" y="215.1" width="40" height="36.75" fill="#f8c69c"/>
<rect x="1219.76" y="215.1" width="40" height="36.75" fill="#f8c69c"/>
<rect x="1259.26" y="215.1" width="40" height="36.75" fill="#f6b683"/>
<rect x="1298.75" y="215.1" width="40" height="36.75" fill="#f8c69c"/>
<rect x="1338.25" y="215.1" width="40" height="36.75" fill="#fad2b0"/>
<rect x="1377.75" y="215.1" width="39.5" height="36.75" fill="#f5af77"/>
<rect x="1140.76" y="251.35" width="40" height="36.75" fill="#f5af77"/>
<rect x="1180.26" y="251.35" width="40" height="36.75" fill="#f5af77"/>
<rect x="1219.76" y="251.35" width="40" height="36.75" fill="#f5ac73"/>
<rect x="1259.26" y="251.35" width="40" height="36.75" fill="#df9156"/>
<rect x="1298.75" y="251.35" width="40" height="36.75" fill="#eb9b5f"/>
<rect x="1338.25" y="251.35" width="40" height="36.75" fill="#f6b683"/>
<rect x="1377.75" y="251.35" width="39.5" height="36.75" fill="#eb9b5f"/>
<rect x="1101.26" y="287.6" width="40" height="36.75" fill="#d2874d"/>
<rect x="1140.76" y="287.6" width="40" height="36.75" fill="#d2874d"/>
<rect x="1180.26" y="287.6" width="40" height="36.75" fill="#f6b683"/>
<rect x="1219.76" y="287.6" width="40" height="36.75" fill="#f6b17b"/>
<rect x="1259.26" y="287.6" width="40" height="36.75" fill="#f5a96f"/>
<rect x="1298.75" y="287.6" width="40" height="36.75" fill="#eb9b5f"/>
<rect x="1338.25" y="287.6" width="40" height="36.75" fill="#f9cda8"/>
<rect x="1377.75" y="287.6" width="39.5" height="36.75" fill="#eb9b5f"/>
<rect x="1061.76" y="323.85" width="40" height="36.75" fill="#f4a76b"/>
<rect x="1101.26" y="323.85" width="40" height="36.75" fill="#f4a467"/>
<rect x="1140.76" y="323.85" width="40" height="36.75" fill="#f8c094"/>
<rect x="1180.26" y="323.85" width="40" height="36.75" fill="#f6b683"/>
<rect x="1219.76" y="323.85" width="40" height="36.75" fill="#f8c094"/>
<rect x="1259.26" y="323.85" width="40" height="36.75" fill="#f6b47f"/>
<rect x="1298.75" y="323.85" width="40" height="36.75" fill="#f7b987"/>
<rect x="1338.25" y="323.85" width="40" height="36.75" fill="#fad2b0"/>
<rect x="1377.75" y="323.85" width="39.5" height="36.75" fill="#f6b683"/>
<rect x="1022.26" y="360.1" width="40" height="36.75" fill="#b46e38"/>
<rect x="1061.76" y="360.1" width="40" height="36.75" fill="#763b0c"/>
<rect x="1101.26" y="360.1" width="40" height="36.75" fill="#955422"/>
<rect x="1140.76" y="360.1" width="40" height="36.75" fill="#a7642f"/>
<rect x="1180.26" y="360.1" width="40" height="36.75" fill="#a7642f"/>
<rect x="1219.76" y="360.1" width="40" height="36.75" fill="#ad6933"/>
<rect x="1259.26" y="360.1" width="40" height="36.75" fill="#a7642f"/>
<rect x="1298.75" y="360.1" width="40" height="36.75" fill="#b46e38"/>
<rect x="1338.25" y="360.1" width="40" height="36.75" fill="#a7642f"/>
<rect x="1377.75" y="360.1" width="39.5" height="36.75" fill="#9b5926"/>
<rect x="982.77" y="396.35" width="40" height="36.75" fill="#763b0c"/>
<rect x="1022.26" y="396.35" width="40" height="36.75" fill="#d88c52"/>
<rect x="1061.76" y="396.35" width="40" height="36.75" fill="#d2874d"/>
<rect x="1101.26" y="396.35" width="40" height="36.75" fill="#b46e38"/>
<rect x="1140.76" y="396.35" width="40" height="36.75" fill="#d88c52"/>
<rect x="1180.26" y="396.35" width="40" height="36.75" fill="#df9156"/>
<rect x="1219.76" y="396.35" width="40" height="36.75" fill="#df9156"/>
<rect x="1259.26" y="396.35" width="40" height="36.75" fill="#d88c52"/>
<rect x="1298.75" y="396.35" width="40" height="36.75" fill="#d88c52"/>
<rect x="1338.25" y="396.35" width="40" height="36.75" fill="#f4a76b"/>
<rect x="1377.75" y="396.35" width="39.5" height="36.75" fill="#c67d45"/>
<rect x="943.27" y="432.6" width="40" height="36.75" fill="#8f4f1e"/>
<rect x="982.77" y="432.6" width="40" height="36.75" fill="#a7642f"/>
<rect x="1022.26" y="432.6" width="40" height="36.75" fill="#e5965a"/>
<rect x="1061.76" y="432.6" width="40" height="36.75" fill="#9b5926"/>
<rect x="1101.26" y="432.6" width="40" height="36.75" fill="#c67d45"/>
<rect x="1140.76" y="432.6" width="40" height="36.75" fill="#df9156"/>
<rect x="1180.26" y="432.6" width="40" height="36.75" fill="#d2874d"/>
<rect x="1219.76" y="432.6" width="40" height="36.75" fill="#df9156"/>
<rect x="1259.26" y="432.6" width="40" height="36.75" fill="#cc8249"/>
<rect x="1298.75" y="432.6" width="40" height="36.75" fill="#df9156"/>
<rect x="1338.25" y="432.6" width="40" height="36.75" fill="#df9156"/>
<rect x="1377.75" y="432.6" width="39.5" height="36.75" fill="#c67d45"/>
<rect x="903.77" y="468.85" width="40" height="36.75" fill="#eb9b5f"/>
<rect x="943.27" y="468.85" width="40" height="36.75" fill="#8f4f1e"/>
<rect x="982.77" y="468.85" width="40" height="36.75" fill="#a7642f"/>
<rect x="1022.26" y="468.85" width="40" height="36.75" fill="#df9156"/>
<rect x="1061.76" y="468.85" width="40" height="36.75" fill="#a15f2b"/>
<rect x="1101.26" y="468.85" width="40" height="36.75" fill="#c67d45"/>
<rect x="1140.76" y="468.85" width="40" height="36.75" fill="#d88c52"/>
<rect x="1180.26" y="468.85" width="40" height="36.75" fill="#c67d45"/>
<rect x="1219.76" y="468.85" width="40" height="36.75" fill="#d88c52"/>
<rect x="1259.26" y="468.85" width="40" height="36.75" fill="#cc8249"/>
<rect x="1298.75" y="468.85" width="40" height="36.75" fill="#d88c52"/>
<rect x="1338.25" y="468.85" width="40" height="36.75" fill="#d88c52"/>
<rect x="1377.75" y="468.85" width="39.5" height="36.75" fill="#c67d45"/>
<rect x="864.27" y="505.1" width="40" height="36.25" fill="#e5965a"/>
<rect x="903.77" y="505.1" width="40" height="36.25" fill="#e5965a"/>
<rect x="943.27" y="505.1" width="40" height="36.25" fill="#a15f2b"/>
<rect x="982.77" y="505.1" width="40" height="36.25" fill="#a7642f"/>
<rect x="1022.26" y="505.1" width="40" height="36.25" fill="#f1a063"/>
<rect x="1061.76" y="505.1" width="40" height="36.25" fill="#a7642f"/>
<rect x="1101.26" y="505.1" width="40" height="36.25" fill="#d2874d"/>
<rect x="1140.76" y="505.1" width="40" height="36.25" fill="#df9156"/>
<rect x="1180.26" y="505.1" width="40" height="36.25" fill="#e5965a"/>
<rect x="1219.76" y="505.1" width="40" height="36.25" fill="#f1a063"/>
<rect x="1259.26" y="505.1" width="40" height="36.25" fill="#d2874d"/>
<rect x="1298.75" y="505.1" width="40" height="36.25" fill="#f1a063"/>
<rect x="1338.25" y="505.1" width="40" height="36.25" fill="#f4a76b"/>
<rect x="1377.75" y="505.1" width="39.5" height="36.25" fill="#d2874d"/>
</g>
<g>
<text class="cv hy" transform="translate(883.62 59.5) matrix(1 .001 0 1 0 0) scale(1 1.06)">--</text>
<text class="cv hy" transform="translate(923.12 59.5) matrix(1 .001 0 1 0 0) scale(1 1.06)">--</text>
<text class="cv hy" transform="translate(962.62 59.5) matrix(1 .001 0 1 0 0) scale(1 1.06)">--</text>
<text class="cv hy" transform="translate(1002.11 59.5) matrix(1 .001 0 1 0 0) scale(1 1.06)">--</text>
<text class="cv hy" transform="translate(1041.61 59.5) matrix(1 .001 0 1 0 0) scale(1 1.06)">--</text>
<text class="cv hy" transform="translate(1081.11 59.5) matrix(1 .001 0 1 0 0) scale(1 1.06)">--</text>
<text class="cv hy" transform="translate(1120.61 59.5) matrix(1 .001 0 1 0 0) scale(1 1.06)">--</text>
<text class="cv hy" transform="translate(1160.11 59.5) matrix(1 .001 0 1 0 0) scale(1 1.06)">--</text>
<text class="cv hy" transform="translate(1199.61 59.5) matrix(1 .001 0 1 0 0) scale(1 1.06)">--</text>
<text class="cv hy" transform="translate(1239.11 59.5) matrix(1 .001 0 1 0 0) scale(1 1.06)">--</text>
<text class="cv hy" transform="translate(1278.61 59.5) matrix(1 .001 0 1 0 0) scale(1 1.06)">--</text>
<text class="cv hy" transform="translate(1318.1 59.5) matrix(1 .001 0 1 0 0) scale(1 1.06)">--</text>
<text class="cv hy" transform="translate(1357.6 59.5) matrix(1 .001 0 1 0 0) scale(1 1.06)">--</text>
<text class="cv" transform="translate(1396.8 59.55) matrix(1 .001 0 1 0 0) scale(1 1.06)">0.14</text>
<text class="cv hy" transform="translate(883.62 95.67) matrix(1 .001 0 1 0 0) scale(1 1.06)">--</text>
<text class="cv hy" transform="translate(923.12 95.67) matrix(1 .001 0 1 0 0) scale(1 1.06)">--</text>
<text class="cv hy" transform="translate(962.62 95.67) matrix(1 .001 0 1 0 0) scale(1 1.06)">--</text>
<text class="cv hy" transform="translate(1002.11 95.67) matrix(1 .001 0 1 0 0) scale(1 1.06)">--</text>
<text class="cv hy" transform="translate(1041.61 95.67) matrix(1 .001 0 1 0 0) scale(1 1.06)">--</text>
<text class="cv hy" transform="translate(1081.11 95.67) matrix(1 .001 0 1 0 0) scale(1 1.06)">--</text>
<text class="cv hy" transform="translate(1120.61 95.67) matrix(1 .001 0 1 0 0) scale(1 1.06)">--</text>
<text class="cv hy" transform="translate(1160.11 95.67) matrix(1 .001 0 1 0 0) scale(1 1.06)">--</text>
<text class="cv hy" transform="translate(1199.61 95.67) matrix(1 .001 0 1 0 0) scale(1 1.06)">--</text>
<text class="cv hy" transform="translate(1239.11 95.67) matrix(1 .001 0 1 0 0) scale(1 1.06)">--</text>
<text class="cv hy" transform="translate(1278.61 95.67) matrix(1 .001 0 1 0 0) scale(1 1.06)">--</text>
<text class="cv hy" transform="translate(1318.1 95.67) matrix(1 .001 0 1 0 0) scale(1 1.06)">--</text>
<text class="cv" transform="translate(1357.3 95.72) matrix(1 .001 0 1 0 0) scale(1 1.06)">0.08</text>
<text class="cv" transform="translate(1396.8 95.72) matrix(1 .001 0 1 0 0) scale(1 1.06)">0.22</text>
<text class="cv hy" transform="translate(883.62 131.85) matrix(1 .001 0 1 0 0) scale(1 1.06)">--</text>
<text class="cv hy" transform="translate(923.12 131.85) matrix(1 .001 0 1 0 0) scale(1 1.06)">--</text>
<text class="cv hy" transform="translate(962.62 131.85) matrix(1 .001 0 1 0 0) scale(1 1.06)">--</text>
<text class="cv hy" transform="translate(1002.11 131.85) matrix(1 .001 0 1 0 0) scale(1 1.06)">--</text>
<text class="cv hy" transform="translate(1041.61 131.85) matrix(1 .001 0 1 0 0) scale(1 1.06)">--</text>
<text class="cv hy" transform="translate(1081.11 131.85) matrix(1 .001 0 1 0 0) scale(1 1.06)">--</text>
<text class="cv hy" transform="translate(1120.61 131.85) matrix(1 .001 0 1 0 0) scale(1 1.06)">--</text>
<text class="cv hy" transform="translate(1160.11 131.85) matrix(1 .001 0 1 0 0) scale(1 1.06)">--</text>
<text class="cv hy" transform="translate(1199.61 131.85) matrix(1 .001 0 1 0 0) scale(1 1.06)">--</text>
<text class="cv hy" transform="translate(1239.11 131.85) matrix(1 .001 0 1 0 0) scale(1 1.06)">--</text>
<text class="cv hy" transform="translate(1278.61 131.85) matrix(1 .001 0 1 0 0) scale(1 1.06)">--</text>
<text class="cv" transform="translate(1317.8 131.9) matrix(1 .001 0 1 0 0) scale(1 1.06)">0.26</text>
<text class="cv" transform="translate(1357.3 131.9) matrix(1 .001 0 1 0 0) scale(1 1.06)">0.09</text>
<text class="cv" transform="translate(1396.8 131.9) matrix(1 .001 0 1 0 0) scale(1 1.06)">0.21</text>
<text class="cv hy" transform="translate(883.62 168.02) matrix(1 .001 0 1 0 0) scale(1 1.06)">--</text>
<text class="cv hy" transform="translate(923.12 168.02) matrix(1 .001 0 1 0 0) scale(1 1.06)">--</text>
<text class="cv hy" transform="translate(962.62 168.02) matrix(1 .001 0 1 0 0) scale(1 1.06)">--</text>
<text class="cv hy" transform="translate(1002.11 168.02) matrix(1 .001 0 1 0 0) scale(1 1.06)">--</text>
<text class="cv hy" transform="translate(1041.61 168.02) matrix(1 .001 0 1 0 0) scale(1 1.06)">--</text>
<text class="cv hy" transform="translate(1081.11 168.02) matrix(1 .001 0 1 0 0) scale(1 1.06)">--</text>
<text class="cv hy" transform="translate(1120.61 168.02) matrix(1 .001 0 1 0 0) scale(1 1.06)">--</text>
<text class="cv hy" transform="translate(1160.11 168.02) matrix(1 .001 0 1 0 0) scale(1 1.06)">--</text>
<text class="cv hy" transform="translate(1199.61 168.02) matrix(1 .001 0 1 0 0) scale(1 1.06)">--</text>
<text class="cv hy" transform="translate(1239.11 168.02) matrix(1 .001 0 1 0 0) scale(1 1.06)">--</text>
<text class="cv" transform="translate(1278.31 168.07) matrix(1 .001 0 1 0 0) scale(1 1.06)">0.21</text>
<text class="cv" transform="translate(1317.8 168.07) matrix(1 .001 0 1 0 0) scale(1 1.06)">0.13</text>
<text class="cv" transform="translate(1357.3 168.07) matrix(1 .001 0 1 0 0) scale(1 1.06)">0.10</text>
<text class="cv" transform="translate(1396.8 168.07) matrix(1 .001 0 1 0 0) scale(1 1.06)">0.22</text>
<text class="cv hy" transform="translate(883.62 204.2) matrix(1 .001 0 1 0 0) scale(1 1.06)">--</text>
<text class="cv hy" transform="translate(923.12 204.2) matrix(1 .001 0 1 0 0) scale(1 1.06)">--</text>
<text class="cv hy" transform="translate(962.62 204.2) matrix(1 .001 0 1 0 0) scale(1 1.06)">--</text>
<text class="cv hy" transform="translate(1002.11 204.2) matrix(1 .001 0 1 0 0) scale(1 1.06)">--</text>
<text class="cv hy" transform="translate(1041.61 204.2) matrix(1 .001 0 1 0 0) scale(1 1.06)">--</text>
<text class="cv hy" transform="translate(1081.11 204.2) matrix(1 .001 0 1 0 0) scale(1 1.06)">--</text>
<text class="cv hy" transform="translate(1120.61 204.2) matrix(1 .001 0 1 0 0) scale(1 1.06)">--</text>
<text class="cv hy" transform="translate(1160.11 204.2) matrix(1 .001 0 1 0 0) scale(1 1.06)">--</text>
<text class="cv hy" transform="translate(1199.61 204.2) matrix(1 .001 0 1 0 0) scale(1 1.06)">--</text>
<text class="cv" transform="translate(1238.81 204.25) matrix(1 .001 0 1 0 0) scale(1 1.06)">0.14</text>
<text class="cv" transform="translate(1278.31 204.25) matrix(1 .001 0 1 0 0) scale(1 1.06)">0.23</text>
<text class="cv" transform="translate(1317.8 204.25) matrix(1 .001 0 1 0 0) scale(1 1.06)">0.27</text>
<text class="cv" transform="translate(1357.3 204.25) matrix(1 .001 0 1 0 0) scale(1 1.06)">0.09</text>
<text class="cv" transform="translate(1396.8 204.25) matrix(1 .001 0 1 0 0) scale(1 1.06)">0.23</text>
<text class="cv hy" transform="translate(883.62 240.38) matrix(1 .001 0 1 0 0) scale(1 1.06)">--</text>
<text class="cv hy" transform="translate(923.12 240.38) matrix(1 .001 0 1 0 0) scale(1 1.06)">--</text>
<text class="cv hy" transform="translate(962.62 240.38) matrix(1 .001 0 1 0 0) scale(1 1.06)">--</text>
<text class="cv hy" transform="translate(1002.11 240.38) matrix(1 .001 0 1 0 0) scale(1 1.06)">--</text>
<text class="cv hy" transform="translate(1041.61 240.38) matrix(1 .001 0 1 0 0) scale(1 1.06)">--</text>
<text class="cv hy" transform="translate(1081.11 240.38) matrix(1 .001 0 1 0 0) scale(1 1.06)">--</text>
<text class="cv hy" transform="translate(1120.61 240.38) matrix(1 .001 0 1 0 0) scale(1 1.06)">--</text>
<text class="cv hy" transform="translate(1160.11 240.38) matrix(1 .001 0 1 0 0) scale(1 1.06)">--</text>
<text class="cv" transform="translate(1199.31 240.43) matrix(1 .001 0 1 0 0) scale(1 1.06)">0.16</text>
<text class="cv" transform="translate(1238.81 240.43) matrix(1 .001 0 1 0 0) scale(1 1.06)">0.16</text>
<text class="cv" transform="translate(1278.31 240.43) matrix(1 .001 0 1 0 0) scale(1 1.06)">0.22</text>
<text class="cv" transform="translate(1317.8 240.43) matrix(1 .001 0 1 0 0) scale(1 1.06)">0.16</text>
<text class="cv" transform="translate(1357.3 240.43) matrix(1 .001 0 1 0 0) scale(1 1.06)">0.11</text>
<text class="cv" transform="translate(1396.8 240.43) matrix(1 .001 0 1 0 0) scale(1 1.06)">0.25</text>
<text class="cv hy" transform="translate(883.62 276.55) matrix(1 .001 0 1 0 0) scale(1 1.06)">--</text>
<text class="cv hy" transform="translate(923.12 276.55) matrix(1 .001 0 1 0 0) scale(1 1.06)">--</text>
<text class="cv hy" transform="translate(962.62 276.55) matrix(1 .001 0 1 0 0) scale(1 1.06)">--</text>
<text class="cv hy" transform="translate(1002.11 276.55) matrix(1 .001 0 1 0 0) scale(1 1.06)">--</text>
<text class="cv hy" transform="translate(1041.61 276.55) matrix(1 .001 0 1 0 0) scale(1 1.06)">--</text>
<text class="cv hy" transform="translate(1081.11 276.55) matrix(1 .001 0 1 0 0) scale(1 1.06)">--</text>
<text class="cv hy" transform="translate(1120.61 276.55) matrix(1 .001 0 1 0 0) scale(1 1.06)">--</text>
<text class="cv" transform="translate(1159.81 276.6) matrix(1 .001 0 1 0 0) scale(1 1.06)">0.25</text>
<text class="cv" transform="translate(1199.31 276.6) matrix(1 .001 0 1 0 0) scale(1 1.06)">0.25</text>
<text class="cv" transform="translate(1238.81 276.6) matrix(1 .001 0 1 0 0) scale(1 1.06)">0.26</text>
<text class="cv" transform="translate(1278.31 276.6) matrix(1 .001 0 1 0 0) scale(1 1.06)">0.33</text>
<text class="cv" transform="translate(1317.8 276.6) matrix(1 .001 0 1 0 0) scale(1 1.06)">0.31</text>
<text class="cv" transform="translate(1357.3 276.6) matrix(1 .001 0 1 0 0) scale(1 1.06)">0.22</text>
<text class="cv" transform="translate(1396.8 276.6) matrix(1 .001 0 1 0 0) scale(1 1.06)">0.31</text>
<text class="cv hy" transform="translate(883.62 312.72) matrix(1 .001 0 1 0 0) scale(1 1.06)">--</text>
<text class="cv hy" transform="translate(923.12 312.72) matrix(1 .001 0 1 0 0) scale(1 1.06)">--</text>
<text class="cv hy" transform="translate(962.62 312.72) matrix(1 .001 0 1 0 0) scale(1 1.06)">--</text>
<text class="cv hy" transform="translate(1002.11 312.72) matrix(1 .001 0 1 0 0) scale(1 1.06)">--</text>
<text class="cv hy" transform="translate(1041.61 312.72) matrix(1 .001 0 1 0 0) scale(1 1.06)">--</text>
<text class="cv hy" transform="translate(1081.11 312.72) matrix(1 .001 0 1 0 0) scale(1 1.06)">--</text>
<text class="cv" transform="translate(1120.31 312.77) matrix(1 .001 0 1 0 0) scale(1 1.06)">0.35</text>
<text class="cv" transform="translate(1159.81 312.77) matrix(1 .001 0 1 0 0) scale(1 1.06)">0.35</text>
<text class="cv" transform="translate(1199.31 312.77) matrix(1 .001 0 1 0 0) scale(1 1.06)">0.22</text>
<text class="cv" transform="translate(1238.81 312.77) matrix(1 .001 0 1 0 0) scale(1 1.06)">0.24</text>
<text class="cv" transform="translate(1278.31 312.77) matrix(1 .001 0 1 0 0) scale(1 1.06)">0.27</text>
<text class="cv" transform="translate(1317.8 312.77) matrix(1 .001 0 1 0 0) scale(1 1.06)">0.31</text>
<text class="cv" transform="translate(1357.3 312.77) matrix(1 .001 0 1 0 0) scale(1 1.06)">0.13</text>
<text class="cv" transform="translate(1396.8 312.77) matrix(1 .001 0 1 0 0) scale(1 1.06)">0.31</text>
<text class="cv hy" transform="translate(883.62 348.9) matrix(1 .001 0 1 0 0) scale(1 1.06)">--</text>
<text class="cv hy" transform="translate(923.12 348.9) matrix(1 .001 0 1 0 0) scale(1 1.06)">--</text>
<text class="cv hy" transform="translate(962.62 348.9) matrix(1 .001 0 1 0 0) scale(1 1.06)">--</text>
<text class="cv hy" transform="translate(1002.11 348.9) matrix(1 .001 0 1 0 0) scale(1 1.06)">--</text>
<text class="cv hy" transform="translate(1041.61 348.9) matrix(1 .001 0 1 0 0) scale(1 1.06)">--</text>
<text class="cv" transform="translate(1080.81 348.95) matrix(1 .001 0 1 0 0) scale(1 1.06)">0.28</text>
<text class="cv" transform="translate(1120.31 348.95) matrix(1 .001 0 1 0 0) scale(1 1.06)">0.29</text>
<text class="cv" transform="translate(1159.81 348.95) matrix(1 .001 0 1 0 0) scale(1 1.06)">0.18</text>
<text class="cv" transform="translate(1199.31 348.95) matrix(1 .001 0 1 0 0) scale(1 1.06)">0.22</text>
<text class="cv" transform="translate(1238.81 348.95) matrix(1 .001 0 1 0 0) scale(1 1.06)">0.18</text>
<text class="cv" transform="translate(1278.31 348.95) matrix(1 .001 0 1 0 0) scale(1 1.06)">0.23</text>
<text class="cv" transform="translate(1317.8 348.95) matrix(1 .001 0 1 0 0) scale(1 1.06)">0.21</text>
<text class="cv" transform="translate(1357.3 348.95) matrix(1 .001 0 1 0 0) scale(1 1.06)">0.11</text>
<text class="cv" transform="translate(1396.8 348.95) matrix(1 .001 0 1 0 0) scale(1 1.06)">0.22</text>
<text class="cv hy" transform="translate(883.62 385.07) matrix(1 .001 0 1 0 0) scale(1 1.06)">--</text>
<text class="cv hy" transform="translate(923.12 385.07) matrix(1 .001 0 1 0 0) scale(1 1.06)">--</text>
<text class="cv hy" transform="translate(962.62 385.07) matrix(1 .001 0 1 0 0) scale(1 1.06)">--</text>
<text class="cv hy" transform="translate(1002.11 385.07) matrix(1 .001 0 1 0 0) scale(1 1.06)">--</text>
<text class="cv w" transform="translate(1041.31 385.12) matrix(1 .001 0 1 0 0) scale(1 1.06)">0.40</text>
<text class="cv w" transform="translate(1080.81 385.12) matrix(1 .001 0 1 0 0) scale(1 1.06)">0.50</text>
<text class="cv w" transform="translate(1120.31 385.12) matrix(1 .001 0 1 0 0) scale(1 1.06)">0.45</text>
<text class="cv w" transform="translate(1159.81 385.12) matrix(1 .001 0 1 0 0) scale(1 1.06)">0.42</text>
<text class="cv w" transform="translate(1199.31 385.12) matrix(1 .001 0 1 0 0) scale(1 1.06)">0.42</text>
<text class="cv w" transform="translate(1238.81 385.12) matrix(1 .001 0 1 0 0) scale(1 1.06)">0.41</text>
<text class="cv w" transform="translate(1278.31 385.12) matrix(1 .001 0 1 0 0) scale(1 1.06)">0.42</text>
<text class="cv w" transform="translate(1317.8 385.12) matrix(1 .001 0 1 0 0) scale(1 1.06)">0.40</text>
<text class="cv w" transform="translate(1357.3 385.12) matrix(1 .001 0 1 0 0) scale(1 1.06)">0.42</text>
<text class="cv w" transform="translate(1396.8 385.12) matrix(1 .001 0 1 0 0) scale(1 1.06)">0.44</text>
<text class="cv hy" transform="translate(883.62 421.25) matrix(1 .001 0 1 0 0) scale(1 1.06)">--</text>
<text class="cv hy" transform="translate(923.12 421.25) matrix(1 .001 0 1 0 0) scale(1 1.06)">--</text>
<text class="cv hy" transform="translate(962.62 421.25) matrix(1 .001 0 1 0 0) scale(1 1.06)">--</text>
<text class="cv w" transform="translate(1001.81 421.3) matrix(1 .001 0 1 0 0) scale(1 1.06)">0.50</text>
<text class="cv" transform="translate(1041.31 421.3) matrix(1 .001 0 1 0 0) scale(1 1.06)">0.34</text>
<text class="cv" transform="translate(1080.81 421.3) matrix(1 .001 0 1 0 0) scale(1 1.06)">0.35</text>
<text class="cv w" transform="translate(1120.31 421.3) matrix(1 .001 0 1 0 0) scale(1 1.06)">0.40</text>
<text class="cv" transform="translate(1159.81 421.3) matrix(1 .001 0 1 0 0) scale(1 1.06)">0.34</text>
<text class="cv" transform="translate(1199.31 421.3) matrix(1 .001 0 1 0 0) scale(1 1.06)">0.33</text>
<text class="cv" transform="translate(1238.81 421.3) matrix(1 .001 0 1 0 0) scale(1 1.06)">0.33</text>
<text class="cv" transform="translate(1278.31 421.3) matrix(1 .001 0 1 0 0) scale(1 1.06)">0.34</text>
<text class="cv" transform="translate(1317.8 421.3) matrix(1 .001 0 1 0 0) scale(1 1.06)">0.34</text>
<text class="cv" transform="translate(1357.3 421.3) matrix(1 .001 0 1 0 0) scale(1 1.06)">0.28</text>
<text class="cv" transform="translate(1396.8 421.3) matrix(1 .001 0 1 0 0) scale(1 1.06)">0.37</text>
<text class="cv hy" transform="translate(883.62 457.42) matrix(1 .001 0 1 0 0) scale(1 1.06)">--</text>
<text class="cv hy" transform="translate(923.12 457.42) matrix(1 .001 0 1 0 0) scale(1 1.06)">--</text>
<text class="cv w" transform="translate(962.32 457.47) matrix(1 .001 0 1 0 0) scale(1 1.06)">0.46</text>
<text class="cv w" transform="translate(1001.81 457.47) matrix(1 .001 0 1 0 0) scale(1 1.06)">0.42</text>
<text class="cv" transform="translate(1041.31 457.47) matrix(1 .001 0 1 0 0) scale(1 1.06)">0.32</text>
<text class="cv w" transform="translate(1080.81 457.47) matrix(1 .001 0 1 0 0) scale(1 1.06)">0.44</text>
<text class="cv" transform="translate(1120.31 457.47) matrix(1 .001 0 1 0 0) scale(1 1.06)">0.37</text>
<text class="cv" transform="translate(1159.81 457.47) matrix(1 .001 0 1 0 0) scale(1 1.06)">0.33</text>
<text class="cv" transform="translate(1199.31 457.47) matrix(1 .001 0 1 0 0) scale(1 1.06)">0.35</text>
<text class="cv" transform="translate(1238.81 457.47) matrix(1 .001 0 1 0 0) scale(1 1.06)">0.33</text>
<text class="cv" transform="translate(1278.31 457.47) matrix(1 .001 0 1 0 0) scale(1 1.06)">0.36</text>
<text class="cv" transform="translate(1317.8 457.47) matrix(1 .001 0 1 0 0) scale(1 1.06)">0.33</text>
<text class="cv" transform="translate(1357.3 457.47) matrix(1 .001 0 1 0 0) scale(1 1.06)">0.33</text>
<text class="cv" transform="translate(1396.8 457.47) matrix(1 .001 0 1 0 0) scale(1 1.06)">0.37</text>
<text class="cv hy" transform="translate(883.62 493.6) matrix(1 .001 0 1 0 0) scale(1 1.06)">--</text>
<text class="cv" transform="translate(922.82 493.65) matrix(1 .001 0 1 0 0) scale(1 1.06)">0.31</text>
<text class="cv w" transform="translate(962.32 493.65) matrix(1 .001 0 1 0 0) scale(1 1.06)">0.46</text>
<text class="cv w" transform="translate(1001.81 493.65) matrix(1 .001 0 1 0 0) scale(1 1.06)">0.42</text>
<text class="cv" transform="translate(1041.31 493.65) matrix(1 .001 0 1 0 0) scale(1 1.06)">0.33</text>
<text class="cv w" transform="translate(1080.81 493.65) matrix(1 .001 0 1 0 0) scale(1 1.06)">0.43</text>
<text class="cv" transform="translate(1120.31 493.65) matrix(1 .001 0 1 0 0) scale(1 1.06)">0.37</text>
<text class="cv" transform="translate(1159.81 493.65) matrix(1 .001 0 1 0 0) scale(1 1.06)">0.34</text>
<text class="cv" transform="translate(1199.31 493.65) matrix(1 .001 0 1 0 0) scale(1 1.06)">0.37</text>
<text class="cv" transform="translate(1238.81 493.65) matrix(1 .001 0 1 0 0) scale(1 1.06)">0.34</text>
<text class="cv" transform="translate(1278.31 493.65) matrix(1 .001 0 1 0 0) scale(1 1.06)">0.36</text>
<text class="cv" transform="translate(1317.8 493.65) matrix(1 .001 0 1 0 0) scale(1 1.06)">0.34</text>
<text class="cv" transform="translate(1357.3 493.65) matrix(1 .001 0 1 0 0) scale(1 1.06)">0.34</text>
<text class="cv" transform="translate(1396.8 493.65) matrix(1 .001 0 1 0 0) scale(1 1.06)">0.37</text>
<text class="cv" transform="translate(883.32 529.82) matrix(1 .001 0 1 0 0) scale(1 1.06)">0.32</text>
<text class="cv" transform="translate(922.82 529.82) matrix(1 .001 0 1 0 0) scale(1 1.06)">0.32</text>
<text class="cv w" transform="translate(962.32 529.82) matrix(1 .001 0 1 0 0) scale(1 1.06)">0.43</text>
<text class="cv w" transform="translate(1001.81 529.82) matrix(1 .001 0 1 0 0) scale(1 1.06)">0.42</text>
<text class="cv" transform="translate(1041.31 529.82) matrix(1 .001 0 1 0 0) scale(1 1.06)">0.30</text>
<text class="cv w" transform="translate(1080.81 529.82) matrix(1 .001 0 1 0 0) scale(1 1.06)">0.42</text>
<text class="cv" transform="translate(1120.31 529.82) matrix(1 .001 0 1 0 0) scale(1 1.06)">0.35</text>
<text class="cv" transform="translate(1159.81 529.82) matrix(1 .001 0 1 0 0) scale(1 1.06)">0.33</text>
<text class="cv" transform="translate(1199.31 529.82) matrix(1 .001 0 1 0 0) scale(1 1.06)">0.32</text>
<text class="cv" transform="translate(1238.81 529.82) matrix(1 .001 0 1 0 0) scale(1 1.06)">0.30</text>
<text class="cv" transform="translate(1278.31 529.82) matrix(1 .001 0 1 0 0) scale(1 1.06)">0.35</text>
<text class="cv" transform="translate(1317.8 529.82) matrix(1 .001 0 1 0 0) scale(1 1.06)">0.30</text>
<text class="cv" transform="translate(1357.3 529.82) matrix(1 .001 0 1 0 0) scale(1 1.06)">0.28</text>
<text class="cv" transform="translate(1396.8 529.82) matrix(1 .001 0 1 0 0) scale(1 1.06)">0.35</text>
</g>
<rect class="ax" x="864.27" y="34.64" width="552.98" height="506.76"/>
<path class="tk" d="M855.17 52.23H864.27"/>
<text class="tl" text-anchor="end" transform="translate(848.27 60.58) matrix(1 .001 0 1 0 0) scale(1 1.02)">X14</text>
<path class="tk" d="M855.17 88.47H864.27"/>
<text class="tl" text-anchor="end" transform="translate(848.27 96.82) matrix(1 .001 0 1 0 0) scale(1 1.02)">X13</text>
<path class="tk" d="M855.17 124.72H864.27"/>
<text class="tl" text-anchor="end" transform="translate(848.27 133.07) matrix(1 .001 0 1 0 0) scale(1 1.02)">X12</text>
<path class="tk" d="M855.17 160.97H864.27"/>
<text class="tl" text-anchor="end" transform="translate(848.27 169.32) matrix(1 .001 0 1 0 0) scale(1 1.02)">X11</text>
<path class="tk" d="M855.17 197.22H864.27"/>
<text class="tl" text-anchor="end" transform="translate(848.27 205.57) matrix(1 .001 0 1 0 0) scale(1 1.02)">X10</text>
<path class="tk" d="M855.17 233.47H864.27"/>
<text class="tl" text-anchor="end" transform="translate(848.27 241.82) matrix(1 .001 0 1 0 0) scale(1 1.02)">X9</text>
<path class="tk" d="M855.17 269.73H864.27"/>
<text class="tl" text-anchor="end" transform="translate(848.27 278.08) matrix(1 .001 0 1 0 0) scale(1 1.02)">X8</text>
<path class="tk" d="M855.17 305.98H864.27"/>
<text class="tl" text-anchor="end" transform="translate(848.27 314.33) matrix(1 .001 0 1 0 0) scale(1 1.02)">X7</text>
<path class="tk" d="M855.17 342.23H864.27"/>
<text class="tl" text-anchor="end" transform="translate(848.27 350.58) matrix(1 .001 0 1 0 0) scale(1 1.02)">X6</text>
<path class="tk" d="M855.17 378.48H864.27"/>
<text class="tl" text-anchor="end" transform="translate(848.27 386.83) matrix(1 .001 0 1 0 0) scale(1 1.02)">X5</text>
<path class="tk" d="M855.17 414.73H864.27"/>
<text class="tl" text-anchor="end" transform="translate(848.27 423.08) matrix(1 .001 0 1 0 0) scale(1 1.02)">X4</text>
<path class="tk" d="M855.17 450.98H864.27"/>
<text class="tl" text-anchor="end" transform="translate(848.27 459.33) matrix(1 .001 0 1 0 0) scale(1 1.02)">X3</text>
<path class="tk" d="M855.17 487.23H864.27"/>
<text class="tl" text-anchor="end" transform="translate(848.27 495.58) matrix(1 .001 0 1 0 0) scale(1 1.02)">X2</text>
<path class="tk" d="M855.17 523.48H864.27"/>
<text class="tl" text-anchor="end" transform="translate(848.27 531.83) matrix(1 .001 0 1 0 0) scale(1 1.02)">X1</text>
<path class="tk" d="M883.82 541.4V549.9"/>
<text class="tl" text-anchor="end" transform="translate(906.82 562.2) rotate(-45) scale(1 1.02)">X2</text>
<path class="tk" d="M923.32 541.4V549.9"/>
<text class="tl" text-anchor="end" transform="translate(946.32 562.2) rotate(-45) scale(1 1.02)">X3</text>
<path class="tk" d="M962.82 541.4V549.9"/>
<text class="tl" text-anchor="end" transform="translate(985.82 562.2) rotate(-45) scale(1 1.02)">X4</text>
<path class="tk" d="M1002.31 541.4V549.9"/>
<text class="tl" text-anchor="end" transform="translate(1025.32 562.2) rotate(-45) scale(1 1.02)">X5</text>
<path class="tk" d="M1041.81 541.4V549.9"/>
<text class="tl" text-anchor="end" transform="translate(1064.81 562.2) rotate(-45) scale(1 1.02)">X6</text>
<path class="tk" d="M1081.31 541.4V549.9"/>
<text class="tl" text-anchor="end" transform="translate(1104.31 562.2) rotate(-45) scale(1 1.02)">X7</text>
<path class="tk" d="M1120.81 541.4V549.9"/>
<text class="tl" text-anchor="end" transform="translate(1143.81 562.2) rotate(-45) scale(1 1.02)">X8</text>
<path class="tk" d="M1160.31 541.4V549.9"/>
<text class="tl" text-anchor="end" transform="translate(1183.31 562.2) rotate(-45) scale(1 1.02)">X9</text>
<path class="tk" d="M1199.81 541.4V549.9"/>
<text class="tl" text-anchor="end" transform="translate(1222.81 562.2) rotate(-45) scale(1 1.02)">X10</text>
<path class="tk" d="M1239.31 541.4V549.9"/>
<text class="tl" text-anchor="end" transform="translate(1262.31 562.2) rotate(-45) scale(1 1.02)">X11</text>
<path class="tk" d="M1278.81 541.4V549.9"/>
<text class="tl" text-anchor="end" transform="translate(1301.81 562.2) rotate(-45) scale(1 1.02)">X12</text>
<path class="tk" d="M1318.3 541.4V549.9"/>
<text class="tl" text-anchor="end" transform="translate(1341.3 562.2) rotate(-45) scale(1 1.02)">X13</text>
<path class="tk" d="M1357.8 541.4V549.9"/>
<text class="tl" text-anchor="end" transform="translate(1380.8 562.2) rotate(-45) scale(1 1.02)">X14</text>
<path class="tk" d="M1397.3 541.4V549.9"/>
<text class="tl" text-anchor="end" transform="translate(1420.3 562.2) rotate(-45) scale(1 1.02)">X15</text>
<text class="tt" style="font-size:32.5px" transform="translate(863.9 28.24) matrix(1 .001 0 1 0 0) scale(1 1.02)">(c) q-value (STI-Tibet 2012-2023)</text>
<path class="ar" d="M1201.3 37.9V67.9"/>
<path d="M1201.3 75.9L1195.4 61L1201.3 64.5L1207.2 61Z" fill="#000"/>
<path class="ar" d="M1239.8 37.9V67.9"/>
<path d="M1239.8 75.9L1233.9 61L1239.8 64.5L1245.7 61Z" fill="#000"/>
<path class="ar" d="M1240 76.6V106.1"/>
<path d="M1240 114.1L1234.1 99.2L1240 102.7L1245.9 99.2Z" fill="#000"/>
<path class="ar" d="M1199.9 146.2V176.1"/>
<path d="M1199.9 184.1L1194 169.2L1199.9 172.7L1205.8 169.2Z" fill="#000"/>
<g shape-rendering="crispEdges">
<rect x="1433" y="33.3" width="32.9" height="17.38" fill="#743a0b"/>
<rect x="1433" y="50.18" width="32.9" height="17.38" fill="#7d4111"/>
<rect x="1433" y="67.05" width="32.9" height="17.38" fill="#864818"/>
<rect x="1433" y="83.93" width="32.9" height="17.38" fill="#8f4f1e"/>
<rect x="1433" y="100.81" width="32.9" height="17.38" fill="#985724"/>
<rect x="1433" y="117.68" width="32.9" height="17.38" fill="#a05e2a"/>
<rect x="1433" y="134.56" width="32.9" height="17.38" fill="#a96530"/>
<rect x="1433" y="151.44" width="32.9" height="17.38" fill="#b26c36"/>
<rect x="1433" y="168.31" width="32.9" height="17.38" fill="#bb743d"/>
<rect x="1433" y="185.19" width="32.9" height="17.38" fill="#c47b43"/>
<rect x="1433" y="202.07" width="32.9" height="17.38" fill="#cc8249"/>
<rect x="1433" y="218.94" width="32.9" height="17.38" fill="#d58a4f"/>
<rect x="1433" y="235.82" width="32.9" height="17.38" fill="#de9156"/>
<rect x="1433" y="252.7" width="32.9" height="17.38" fill="#e7985c"/>
<rect x="1433" y="269.57" width="32.9" height="17.38" fill="#f09f62"/>
<rect x="1433" y="286.45" width="32.9" height="17.38" fill="#f4a568"/>
<rect x="1433" y="303.33" width="32.9" height="17.38" fill="#f5a86e"/>
<rect x="1433" y="320.2" width="32.9" height="17.38" fill="#f5ac74"/>
<rect x="1433" y="337.08" width="32.9" height="17.38" fill="#f6b079"/>
<rect x="1433" y="353.96" width="32.9" height="17.38" fill="#f6b47f"/>
<rect x="1433" y="370.83" width="32.9" height="17.38" fill="#f7b785"/>
<rect x="1433" y="387.71" width="32.9" height="17.38" fill="#f7bb8b"/>
<rect x="1433" y="404.59" width="32.9" height="17.38" fill="#f8be90"/>
<rect x="1433" y="421.46" width="32.9" height="17.38" fill="#f8c296"/>
<rect x="1433" y="438.34" width="32.9" height="17.38" fill="#f8c69c"/>
<rect x="1433" y="455.22" width="32.9" height="17.38" fill="#f9caa2"/>
<rect x="1433" y="472.09" width="32.9" height="17.38" fill="#f9cda8"/>
<rect x="1433" y="488.97" width="32.9" height="17.38" fill="#fad1ae"/>
<rect x="1433" y="505.85" width="32.9" height="17.38" fill="#fad4b3"/>
<rect x="1433" y="522.72" width="32.9" height="16.88" fill="#fbd8b9"/>
</g>
<rect class="cb" x="1433" y="33.3" width="32.9" height="506.3"/>
<path class="cb" d="M1465.9 33.3H1474.6"/>
<text class="cl" transform="translate(1484.8 41.45) matrix(1 .001 0 1 0 0) scale(1 1)">0.51</text>
<path class="cb" d="M1465.9 134.56H1474.6"/>
<text class="cl" transform="translate(1484.8 142.71) matrix(1 .001 0 1 0 0) scale(1 1)">0.42</text>
<path class="cb" d="M1465.9 235.82H1474.6"/>
<text class="cl" transform="translate(1484.8 243.97) matrix(1 .001 0 1 0 0) scale(1 1)">0.33</text>
<path class="cb" d="M1465.9 337.08H1474.6"/>
<text class="cl" transform="translate(1484.8 345.23) matrix(1 .001 0 1 0 0) scale(1 1)">0.25</text>
<path class="cb" d="M1465.9 438.34H1474.6"/>
<text class="cl" transform="translate(1484.8 446.49) matrix(1 .001 0 1 0 0) scale(1 1)">0.16</text>
<path class="cb" d="M1465.9 539.6H1474.6"/>
<text class="cl" transform="translate(1484.8 547.75) matrix(1 .001 0 1 0 0) scale(1 1)">0.08</text>
</g>
<g id="panel-b">
<g shape-rendering="crispEdges">
<rect x="581.25" y="659.8" width="39.5" height="36.76" fill="#f4a76b"/>
<rect x="541.75" y="696.06" width="40" height="36.76" fill="#f5aa71"/>
<rect x="581.25" y="696.06" width="39.5" height="36.76" fill="#eb9c5f"/>
<rect x="502.25" y="732.33" width="40" height="36.76" fill="#de9156"/>
<rect x="541.75" y="732.33" width="40" height="36.76" fill="#f09f62"/>
<rect x="581.25" y="732.33" width="39.5" height="36.76" fill="#e29459"/>
<rect x="462.76" y="768.59" width="40" height="36.76" fill="#de9156"/>
<rect x="502.25" y="768.59" width="40" height="36.76" fill="#f4a365"/>
<rect x="541.75" y="768.59" width="40" height="36.76" fill="#f4a568"/>
<rect x="581.25" y="768.59" width="39.5" height="36.76" fill="#f4a365"/>
<rect x="423.26" y="804.86" width="40" height="36.76" fill="#f4a365"/>
<rect x="462.76" y="804.86" width="40" height="36.76" fill="#e7985c"/>
<rect x="502.25" y="804.86" width="40" height="36.76" fill="#eb9c5f"/>
<rect x="541.75" y="804.86" width="40" height="36.76" fill="#f5aa71"/>
<rect x="581.25" y="804.86" width="39.5" height="36.76" fill="#f09f62"/>
<rect x="383.76" y="841.12" width="40" height="36.76" fill="#e7985c"/>
<rect x="423.26" y="841.12" width="40" height="36.76" fill="#e29459"/>
<rect x="462.76" y="841.12" width="40" height="36.76" fill="#da8d52"/>
<rect x="502.25" y="841.12" width="40" height="36.76" fill="#f4a568"/>
<rect x="541.75" y="841.12" width="40" height="36.76" fill="#f6b47f"/>
<rect x="581.25" y="841.12" width="39.5" height="36.76" fill="#e7985c"/>
<rect x="344.26" y="877.39" width="40" height="36.76" fill="#f6b47f"/>
<rect x="383.76" y="877.39" width="40" height="36.76" fill="#da8d52"/>
<rect x="423.26" y="877.39" width="40" height="36.76" fill="#d1864c"/>
<rect x="462.76" y="877.39" width="40" height="36.76" fill="#cc8249"/>
<rect x="502.25" y="877.39" width="40" height="36.76" fill="#e7985c"/>
<rect x="541.75" y="877.39" width="40" height="36.76" fill="#f6b079"/>
<rect x="581.25" y="877.39" width="39.5" height="36.76" fill="#da8d52"/>
<rect x="304.76" y="913.65" width="40" height="36.76" fill="#f5ac74"/>
<rect x="344.26" y="913.65" width="40" height="36.76" fill="#f6b47f"/>
<rect x="383.76" y="913.65" width="40" height="36.76" fill="#f4a568"/>
<rect x="423.26" y="913.65" width="40" height="36.76" fill="#e7985c"/>
<rect x="462.76" y="913.65" width="40" height="36.76" fill="#e29459"/>
<rect x="502.25" y="913.65" width="40" height="36.76" fill="#f5aa71"/>
<rect x="541.75" y="913.65" width="40" height="36.76" fill="#fbdabc"/>
<rect x="581.25" y="913.65" width="39.5" height="36.76" fill="#f09f62"/>
<rect x="265.26" y="949.91" width="40" height="36.76" fill="#e29459"/>
<rect x="304.76" y="949.91" width="40" height="36.76" fill="#cc8249"/>
<rect x="344.26" y="949.91" width="40" height="36.76" fill="#de9156"/>
<rect x="383.76" y="949.91" width="40" height="36.76" fill="#e29459"/>
<rect x="423.26" y="949.91" width="40" height="36.76" fill="#de9156"/>
<rect x="462.76" y="949.91" width="40" height="36.76" fill="#de9156"/>
<rect x="502.25" y="949.91" width="40" height="36.76" fill="#de9156"/>
<rect x="541.75" y="949.91" width="40" height="36.76" fill="#f09f62"/>
<rect x="581.25" y="949.91" width="39.5" height="36.76" fill="#e7985c"/>
<rect x="225.76" y="986.18" width="40" height="36.76" fill="#824514"/>
<rect x="265.26" y="986.18" width="40" height="36.76" fill="#7d4111"/>
<rect x="304.76" y="986.18" width="40" height="36.76" fill="#824514"/>
<rect x="344.26" y="986.18" width="40" height="36.76" fill="#864818"/>
<rect x="383.76" y="986.18" width="40" height="36.76" fill="#824514"/>
<rect x="423.26" y="986.18" width="40" height="36.76" fill="#824514"/>
<rect x="462.76" y="986.18" width="40" height="36.76" fill="#7d4111"/>
<rect x="502.25" y="986.18" width="40" height="36.76" fill="#864818"/>
<rect x="541.75" y="986.18" width="40" height="36.76" fill="#864818"/>
<rect x="581.25" y="986.18" width="39.5" height="36.76" fill="#824514"/>
<rect x="186.27" y="1022.44" width="40" height="36.76" fill="#7d4111"/>
<rect x="225.76" y="1022.44" width="40" height="36.76" fill="#bf7740"/>
<rect x="265.26" y="1022.44" width="40" height="36.76" fill="#e29459"/>
<rect x="304.76" y="1022.44" width="40" height="36.76" fill="#bb743d"/>
<rect x="344.26" y="1022.44" width="40" height="36.76" fill="#cc8249"/>
<rect x="383.76" y="1022.44" width="40" height="36.76" fill="#bf7740"/>
<rect x="423.26" y="1022.44" width="40" height="36.76" fill="#bf7740"/>
<rect x="462.76" y="1022.44" width="40" height="36.76" fill="#bb743d"/>
<rect x="502.25" y="1022.44" width="40" height="36.76" fill="#c87f46"/>
<rect x="541.75" y="1022.44" width="40" height="36.76" fill="#eb9c5f"/>
<rect x="581.25" y="1022.44" width="39.5" height="36.76" fill="#bf7740"/>
<rect x="146.77" y="1058.71" width="40" height="36.76" fill="#8f4f1e"/>
<rect x="186.27" y="1058.71" width="40" height="36.76" fill="#743a0b"/>
<rect x="225.76" y="1058.71" width="40" height="36.76" fill="#a05e2a"/>
<rect x="265.26" y="1058.71" width="40" height="36.76" fill="#9c5a27"/>
<rect x="304.76" y="1058.71" width="40" height="36.76" fill="#a5622d"/>
<rect x="344.26" y="1058.71" width="40" height="36.76" fill="#a96530"/>
<rect x="383.76" y="1058.71" width="40" height="36.76" fill="#a05e2a"/>
<rect x="423.26" y="1058.71" width="40" height="36.76" fill="#a05e2a"/>
<rect x="462.76" y="1058.71" width="40" height="36.76" fill="#9c5a27"/>
<rect x="502.25" y="1058.71" width="40" height="36.76" fill="#a05e2a"/>
<rect x="541.75" y="1058.71" width="40" height="36.76" fill="#a5622d"/>
<rect x="581.25" y="1058.71" width="39.5" height="36.76" fill="#a05e2a"/>
<rect x="107.27" y="1094.97" width="40" height="36.76" fill="#a96530"/>
<rect x="146.77" y="1094.97" width="40" height="36.76" fill="#8f4f1e"/>
<rect x="186.27" y="1094.97" width="40" height="36.76" fill="#703608"/>
<rect x="225.76" y="1094.97" width="40" height="36.76" fill="#9c5a27"/>
<rect x="265.26" y="1094.97" width="40" height="36.76" fill="#9c5a27"/>
<rect x="304.76" y="1094.97" width="40" height="36.76" fill="#a5622d"/>
<rect x="344.26" y="1094.97" width="40" height="36.76" fill="#a96530"/>
<rect x="383.76" y="1094.97" width="40" height="36.76" fill="#a05e2a"/>
<rect x="423.26" y="1094.97" width="40" height="36.76" fill="#9c5a27"/>
<rect x="462.76" y="1094.97" width="40" height="36.76" fill="#9c5a27"/>
<rect x="502.25" y="1094.97" width="40" height="36.76" fill="#a05e2a"/>
<rect x="541.75" y="1094.97" width="40" height="36.76" fill="#a5622d"/>
<rect x="581.25" y="1094.97" width="39.5" height="36.76" fill="#a05e2a"/>
<rect x="67.77" y="1131.24" width="40" height="36.26" fill="#a05e2a"/>
<rect x="107.27" y="1131.24" width="40" height="36.26" fill="#a5622d"/>
<rect x="146.77" y="1131.24" width="40" height="36.26" fill="#9c5a27"/>
<rect x="186.27" y="1131.24" width="40" height="36.26" fill="#743a0b"/>
<rect x="225.76" y="1131.24" width="40" height="36.26" fill="#a96530"/>
<rect x="265.26" y="1131.24" width="40" height="36.26" fill="#a05e2a"/>
<rect x="304.76" y="1131.24" width="40" height="36.26" fill="#a96530"/>
<rect x="344.26" y="1131.24" width="40" height="36.26" fill="#b6703a"/>
<rect x="383.76" y="1131.24" width="40" height="36.26" fill="#a96530"/>
<rect x="423.26" y="1131.24" width="40" height="36.26" fill="#a96530"/>
<rect x="462.76" y="1131.24" width="40" height="36.26" fill="#a5622d"/>
<rect x="502.25" y="1131.24" width="40" height="36.26" fill="#ae6933"/>
<rect x="541.75" y="1131.24" width="40" height="36.26" fill="#b6703a"/>
<rect x="581.25" y="1131.24" width="39.5" height="36.26" fill="#ae6933"/>
</g>
<g>
<text class="cv hy" transform="translate(87.12 685.45) matrix(1 .001 0 1 0 0) scale(1 1.06)">--</text>
<text class="cv hy" transform="translate(126.62 685.45) matrix(1 .001 0 1 0 0) scale(1 1.06)">--</text>
<text class="cv hy" transform="translate(166.12 685.45) matrix(1 .001 0 1 0 0) scale(1 1.06)">--</text>
<text class="cv hy" transform="translate(205.62 685.45) matrix(1 .001 0 1 0 0) scale(1 1.06)">--</text>
<text class="cv hy" transform="translate(245.11 685.45) matrix(1 .001 0 1 0 0) scale(1 1.06)">--</text>
<text class="cv hy" transform="translate(284.61 685.45) matrix(1 .001 0 1 0 0) scale(1 1.06)">--</text>
<text class="cv hy" transform="translate(324.11 685.45) matrix(1 .001 0 1 0 0) scale(1 1.06)">--</text>
<text class="cv hy" transform="translate(363.61 685.45) matrix(1 .001 0 1 0 0) scale(1 1.06)">--</text>
<text class="cv hy" transform="translate(403.11 685.45) matrix(1 .001 0 1 0 0) scale(1 1.06)">--</text>
<text class="cv hy" transform="translate(442.61 685.45) matrix(1 .001 0 1 0 0) scale(1 1.06)">--</text>
<text class="cv hy" transform="translate(482.11 685.45) matrix(1 .001 0 1 0 0) scale(1 1.06)">--</text>
<text class="cv hy" transform="translate(521.6 685.45) matrix(1 .001 0 1 0 0) scale(1 1.06)">--</text>
<text class="cv hy" transform="translate(561.1 685.45) matrix(1 .001 0 1 0 0) scale(1 1.06)">--</text>
<text class="cv" transform="translate(600.3 685.5) matrix(1 .001 0 1 0 0) scale(1 1.06)">0.36</text>
<text class="cv hy" transform="translate(87.12 721.62) matrix(1 .001 0 1 0 0) scale(1 1.06)">--</text>
<text class="cv hy" transform="translate(126.62 721.62) matrix(1 .001 0 1 0 0) scale(1 1.06)">--</text>
<text class="cv hy" transform="translate(166.12 721.62) matrix(1 .001 0 1 0 0) scale(1 1.06)">--</text>
<text class="cv hy" transform="translate(205.62 721.62) matrix(1 .001 0 1 0 0) scale(1 1.06)">--</text>
<text class="cv hy" transform="translate(245.11 721.62) matrix(1 .001 0 1 0 0) scale(1 1.06)">--</text>
<text class="cv hy" transform="translate(284.61 721.62) matrix(1 .001 0 1 0 0) scale(1 1.06)">--</text>
<text class="cv hy" transform="translate(324.11 721.62) matrix(1 .001 0 1 0 0) scale(1 1.06)">--</text>
<text class="cv hy" transform="translate(363.61 721.62) matrix(1 .001 0 1 0 0) scale(1 1.06)">--</text>
<text class="cv hy" transform="translate(403.11 721.62) matrix(1 .001 0 1 0 0) scale(1 1.06)">--</text>
<text class="cv hy" transform="translate(442.61 721.62) matrix(1 .001 0 1 0 0) scale(1 1.06)">--</text>
<text class="cv hy" transform="translate(482.11 721.62) matrix(1 .001 0 1 0 0) scale(1 1.06)">--</text>
<text class="cv hy" transform="translate(521.6 721.62) matrix(1 .001 0 1 0 0) scale(1 1.06)">--</text>
<text class="cv" transform="translate(560.8 721.67) matrix(1 .001 0 1 0 0) scale(1 1.06)">0.34</text>
<text class="cv" transform="translate(600.3 721.67) matrix(1 .001 0 1 0 0) scale(1 1.06)">0.40</text>
<text class="cv hy" transform="translate(87.12 757.8) matrix(1 .001 0 1 0 0) scale(1 1.06)">--</text>
<text class="cv hy" transform="translate(126.62 757.8) matrix(1 .001 0 1 0 0) scale(1 1.06)">--</text>
<text class="cv hy" transform="translate(166.12 757.8) matrix(1 .001 0 1 0 0) scale(1 1.06)">--</text>
<text class="cv hy" transform="translate(205.62 757.8) matrix(1 .001 0 1 0 0) scale(1 1.06)">--</text>
<text class="cv hy" transform="translate(245.11 757.8) matrix(1 .001 0 1 0 0) scale(1 1.06)">--</text>
<text class="cv hy" transform="translate(284.61 757.8) matrix(1 .001 0 1 0 0) scale(1 1.06)">--</text>
<text class="cv hy" transform="translate(324.11 757.8) matrix(1 .001 0 1 0 0) scale(1 1.06)">--</text>
<text class="cv hy" transform="translate(363.61 757.8) matrix(1 .001 0 1 0 0) scale(1 1.06)">--</text>
<text class="cv hy" transform="translate(403.11 757.8) matrix(1 .001 0 1 0 0) scale(1 1.06)">--</text>
<text class="cv hy" transform="translate(442.61 757.8) matrix(1 .001 0 1 0 0) scale(1 1.06)">--</text>
<text class="cv hy" transform="translate(482.11 757.8) matrix(1 .001 0 1 0 0) scale(1 1.06)">--</text>
<text class="cv" transform="translate(521.3 757.85) matrix(1 .001 0 1 0 0) scale(1 1.06)">0.43</text>
<text class="cv" transform="translate(560.8 757.85) matrix(1 .001 0 1 0 0) scale(1 1.06)">0.39</text>
<text class="cv" transform="translate(600.3 757.85) matrix(1 .001 0 1 0 0) scale(1 1.06)">0.42</text>
<text class="cv hy" transform="translate(87.12 793.98) matrix(1 .001 0 1 0 0) scale(1 1.06)">--</text>
<text class="cv hy" transform="translate(126.62 793.98) matrix(1 .001 0 1 0 0) scale(1 1.06)">--</text>
<text class="cv hy" transform="translate(166.12 793.98) matrix(1 .001 0 1 0 0) scale(1 1.06)">--</text>
<text class="cv hy" transform="translate(205.62 793.98) matrix(1 .001 0 1 0 0) scale(1 1.06)">--</text>
<text class="cv hy" transform="translate(245.11 793.98) matrix(1 .001 0 1 0 0) scale(1 1.06)">--</text>
<text class="cv hy" transform="translate(284.61 793.98) matrix(1 .001 0 1 0 0) scale(1 1.06)">--</text>
<text class="cv hy" transform="translate(324.11 793.98) matrix(1 .001 0 1 0 0) scale(1 1.06)">--</text>
<text class="cv hy" transform="translate(363.61 793.98) matrix(1 .001 0 1 0 0) scale(1 1.06)">--</text>
<text class="cv hy" transform="translate(403.11 793.98) matrix(1 .001 0 1 0 0) scale(1 1.06)">--</text>
<text class="cv hy" transform="translate(442.61 793.98) matrix(1 .001 0 1 0 0) scale(1 1.06)">--</text>
<text class="cv" transform="translate(481.81 794.02) matrix(1 .001 0 1 0 0) scale(1 1.06)">0.43</text>
<text class="cv" transform="translate(521.3 794.02) matrix(1 .001 0 1 0 0) scale(1 1.06)">0.38</text>
<text class="cv" transform="translate(560.8 794.02) matrix(1 .001 0 1 0 0) scale(1 1.06)">0.37</text>
<text class="cv" transform="translate(600.3 794.02) matrix(1 .001 0 1 0 0) scale(1 1.06)">0.38</text>
<text class="cv hy" transform="translate(87.12 830.15) matrix(1 .001 0 1 0 0) scale(1 1.06)">--</text>
<text class="cv hy" transform="translate(126.62 830.15) matrix(1 .001 0 1 0 0) scale(1 1.06)">--</text>
<text class="cv hy" transform="translate(166.12 830.15) matrix(1 .001 0 1 0 0) scale(1 1.06)">--</text>
<text class="cv hy" transform="translate(205.62 830.15) matrix(1 .001 0 1 0 0) scale(1 1.06)">--</text>
<text class="cv hy" transform="translate(245.11 830.15) matrix(1 .001 0 1 0 0) scale(1 1.06)">--</text>
<text class="cv hy" transform="translate(284.61 830.15) matrix(1 .001 0 1 0 0) scale(1 1.06)">--</text>
<text class="cv hy" transform="translate(324.11 830.15) matrix(1 .001 0 1 0 0) scale(1 1.06)">--</text>
<text class="cv hy" transform="translate(363.61 830.15) matrix(1 .001 0 1 0 0) scale(1 1.06)">--</text>
<text class="cv hy" transform="translate(403.11 830.15) matrix(1 .001 0 1 0 0) scale(1 1.06)">--</text>
<text class="cv" transform="translate(442.31 830.2) matrix(1 .001 0 1 0 0) scale(1 1.06)">0.38</text>
<text class="cv" transform="translate(481.81 830.2) matrix(1 .001 0 1 0 0) scale(1 1.06)">0.41</text>
<text class="cv" transform="translate(521.3 830.2) matrix(1 .001 0 1 0 0) scale(1 1.06)">0.40</text>
<text class="cv" transform="translate(560.8 830.2) matrix(1 .001 0 1 0 0) scale(1 1.06)">0.34</text>
<text class="cv" transform="translate(600.3 830.2) matrix(1 .001 0 1 0 0) scale(1 1.06)">0.39</text>
<text class="cv hy" transform="translate(87.12 866.33) matrix(1 .001 0 1 0 0) scale(1 1.06)">--</text>
<text class="cv hy" transform="translate(126.62 866.33) matrix(1 .001 0 1 0 0) scale(1 1.06)">--</text>
<text class="cv hy" transform="translate(166.12 866.33) matrix(1 .001 0 1 0 0) scale(1 1.06)">--</text>
<text class="cv hy" transform="translate(205.62 866.33) matrix(1 .001 0 1 0 0) scale(1 1.06)">--</text>
<text class="cv hy" transform="translate(245.11 866.33) matrix(1 .001 0 1 0 0) scale(1 1.06)">--</text>
<text class="cv hy" transform="translate(284.61 866.33) matrix(1 .001 0 1 0 0) scale(1 1.06)">--</text>
<text class="cv hy" transform="translate(324.11 866.33) matrix(1 .001 0 1 0 0) scale(1 1.06)">--</text>
<text class="cv hy" transform="translate(363.61 866.33) matrix(1 .001 0 1 0 0) scale(1 1.06)">--</text>
<text class="cv" transform="translate(402.81 866.38) matrix(1 .001 0 1 0 0) scale(1 1.06)">0.41</text>
<text class="cv" transform="translate(442.31 866.38) matrix(1 .001 0 1 0 0) scale(1 1.06)">0.42</text>
<text class="cv" transform="translate(481.81 866.38) matrix(1 .001 0 1 0 0) scale(1 1.06)">0.44</text>
<text class="cv" transform="translate(521.3 866.38) matrix(1 .001 0 1 0 0) scale(1 1.06)">0.37</text>
<text class="cv" transform="translate(560.8 866.38) matrix(1 .001 0 1 0 0) scale(1 1.06)">0.29</text>
<text class="cv" transform="translate(600.3 866.38) matrix(1 .001 0 1 0 0) scale(1 1.06)">0.41</text>
<text class="cv hy" transform="translate(87.12 902.5) matrix(1 .001 0 1 0 0) scale(1 1.06)">--</text>
<text class="cv hy" transform="translate(126.62 902.5) matrix(1 .001 0 1 0 0) scale(1 1.06)">--</text>
<text class="cv hy" transform="translate(166.12 902.5) matrix(1 .001 0 1 0 0) scale(1 1.06)">--</text>
<text class="cv hy" transform="translate(205.62 902.5) matrix(1 .001 0 1 0 0) scale(1 1.06)">--</text>
<text class="cv hy" transform="translate(245.11 902.5) matrix(1 .001 0 1 0 0) scale(1 1.06)">--</text>
<text class="cv hy" transform="translate(284.61 902.5) matrix(1 .001 0 1 0 0) scale(1 1.06)">--</text>
<text class="cv hy" transform="translate(324.11 902.5) matrix(1 .001 0 1 0 0) scale(1 1.06)">--</text>
<text class="cv" transform="translate(363.31 902.55) matrix(1 .001 0 1 0 0) scale(1 1.06)">0.29</text>
<text class="cv" transform="translate(402.81 902.55) matrix(1 .001 0 1 0 0) scale(1 1.06)">0.44</text>
<text class="cv" transform="translate(442.31 902.55) matrix(1 .001 0 1 0 0) scale(1 1.06)">0.46</text>
<text class="cv" transform="translate(481.81 902.55) matrix(1 .001 0 1 0 0) scale(1 1.06)">0.47</text>
<text class="cv" transform="translate(521.3 902.55) matrix(1 .001 0 1 0 0) scale(1 1.06)">0.41</text>
<text class="cv" transform="translate(560.8 902.55) matrix(1 .001 0 1 0 0) scale(1 1.06)">0.31</text>
<text class="cv" transform="translate(600.3 902.55) matrix(1 .001 0 1 0 0) scale(1 1.06)">0.44</text>
<text class="cv hy" transform="translate(87.12 938.67) matrix(1 .001 0 1 0 0) scale(1 1.06)">--</text>
<text class="cv hy" transform="translate(126.62 938.67) matrix(1 .001 0 1 0 0) scale(1 1.06)">--</text>
<text class="cv hy" transform="translate(166.12 938.67) matrix(1 .001 0 1 0 0) scale(1 1.06)">--</text>
<text class="cv hy" transform="translate(205.62 938.67) matrix(1 .001 0 1 0 0) scale(1 1.06)">--</text>
<text class="cv hy" transform="translate(245.11 938.67) matrix(1 .001 0 1 0 0) scale(1 1.06)">--</text>
<text class="cv hy" transform="translate(284.61 938.67) matrix(1 .001 0 1 0 0) scale(1 1.06)">--</text>
<text class="cv" transform="translate(323.81 938.72) matrix(1 .001 0 1 0 0) scale(1 1.06)">0.33</text>
<text class="cv" transform="translate(363.31 938.72) matrix(1 .001 0 1 0 0) scale(1 1.06)">0.29</text>
<text class="cv" transform="translate(402.81 938.72) matrix(1 .001 0 1 0 0) scale(1 1.06)">0.37</text>
<text class="cv" transform="translate(442.31 938.72) matrix(1 .001 0 1 0 0) scale(1 1.06)">0.41</text>
<text class="cv" transform="translate(481.81 938.72) matrix(1 .001 0 1 0 0) scale(1 1.06)">0.42</text>
<text class="cv" transform="translate(521.3 938.72) matrix(1 .001 0 1 0 0) scale(1 1.06)">0.34</text>
<text class="cv" transform="translate(560.8 938.72) matrix(1 .001 0 1 0 0) scale(1 1.06)">0.08</text>
<text class="cv" transform="translate(600.3 938.72) matrix(1 .001 0 1 0 0) scale(1 1.06)">0.39</text>
<text class="cv hy" transform="translate(87.12 974.85) matrix(1 .001 0 1 0 0) scale(1 1.06)">--</text>
<text class="cv hy" transform="translate(126.62 974.85) matrix(1 .001 0 1 0 0) scale(1 1.06)">--</text>
<text class="cv hy" transform="translate(166.12 974.85) matrix(1 .001 0 1 0 0) scale(1 1.06)">--</text>
<text class="cv hy" transform="translate(205.62 974.85) matrix(1 .001 0 1 0 0) scale(1 1.06)">--</text>
<text class="cv hy" transform="translate(245.11 974.85) matrix(1 .001 0 1 0 0) scale(1 1.06)">--</text>
<text class="cv" transform="translate(284.31 974.9) matrix(1 .001 0 1 0 0) scale(1 1.06)">0.42</text>
<text class="cv" transform="translate(323.81 974.9) matrix(1 .001 0 1 0 0) scale(1 1.06)">0.47</text>
<text class="cv" transform="translate(363.31 974.9) matrix(1 .001 0 1 0 0) scale(1 1.06)">0.43</text>
<text class="cv" transform="translate(402.81 974.9) matrix(1 .001 0 1 0 0) scale(1 1.06)">0.42</text>
<text class="cv" transform="translate(442.31 974.9) matrix(1 .001 0 1 0 0) scale(1 1.06)">0.43</text>
<text class="cv" transform="translate(481.81 974.9) matrix(1 .001 0 1 0 0) scale(1 1.06)">0.43</text>
<text class="cv" transform="translate(521.3 974.9) matrix(1 .001 0 1 0 0) scale(1 1.06)">0.43</text>
<text class="cv" transform="translate(560.8 974.9) matrix(1 .001 0 1 0 0) scale(1 1.06)">0.39</text>
<text class="cv" transform="translate(600.3 974.9) matrix(1 .001 0 1 0 0) scale(1 1.06)">0.41</text>
<text class="cv hy" transform="translate(87.12 1011.03) matrix(1 .001 0 1 0 0) scale(1 1.06)">--</text>
<text class="cv hy" transform="translate(126.62 1011.03) matrix(1 .001 0 1 0 0) scale(1 1.06)">--</text>
<text class="cv hy" transform="translate(166.12 1011.03) matrix(1 .001 0 1 0 0) scale(1 1.06)">--</text>
<text class="cv hy" transform="translate(205.62 1011.03) matrix(1 .001 0 1 0 0) scale(1 1.06)">--</text>
<text class="cv w" transform="translate(244.81 1011.08) matrix(1 .001 0 1 0 0) scale(1 1.06)">0.64</text>
<text class="cv w" transform="translate(284.31 1011.08) matrix(1 .001 0 1 0 0) scale(1 1.06)">0.65</text>
<text class="cv w" transform="translate(323.81 1011.08) matrix(1 .001 0 1 0 0) scale(1 1.06)">0.64</text>
<text class="cv w" transform="translate(363.31 1011.08) matrix(1 .001 0 1 0 0) scale(1 1.06)">0.63</text>
<text class="cv w" transform="translate(402.81 1011.08) matrix(1 .001 0 1 0 0) scale(1 1.06)">0.64</text>
<text class="cv w" transform="translate(442.31 1011.08) matrix(1 .001 0 1 0 0) scale(1 1.06)">0.64</text>
<text class="cv w" transform="translate(481.81 1011.08) matrix(1 .001 0 1 0 0) scale(1 1.06)">0.65</text>
<text class="cv w" transform="translate(521.3 1011.08) matrix(1 .001 0 1 0 0) scale(1 1.06)">0.63</text>
<text class="cv w" transform="translate(560.8 1011.08) matrix(1 .001 0 1 0 0) scale(1 1.06)">0.63</text>
<text class="cv w" transform="translate(600.3 1011.08) matrix(1 .001 0 1 0 0) scale(1 1.06)">0.64</text>
<text class="cv hy" transform="translate(87.12 1047.2) matrix(1 .001 0 1 0 0) scale(1 1.06)">--</text>
<text class="cv hy" transform="translate(126.62 1047.2) matrix(1 .001 0 1 0 0) scale(1 1.06)">--</text>
<text class="cv hy" transform="translate(166.12 1047.2) matrix(1 .001 0 1 0 0) scale(1 1.06)">--</text>
<text class="cv w" transform="translate(205.31 1047.25) matrix(1 .001 0 1 0 0) scale(1 1.06)">0.65</text>
<text class="cv" transform="translate(244.81 1047.25) matrix(1 .001 0 1 0 0) scale(1 1.06)">0.50</text>
<text class="cv" transform="translate(284.31 1047.25) matrix(1 .001 0 1 0 0) scale(1 1.06)">0.42</text>
<text class="cv" transform="translate(323.81 1047.25) matrix(1 .001 0 1 0 0) scale(1 1.06)">0.51</text>
<text class="cv" transform="translate(363.31 1047.25) matrix(1 .001 0 1 0 0) scale(1 1.06)">0.47</text>
<text class="cv" transform="translate(402.81 1047.25) matrix(1 .001 0 1 0 0) scale(1 1.06)">0.50</text>
<text class="cv" transform="translate(442.31 1047.25) matrix(1 .001 0 1 0 0) scale(1 1.06)">0.50</text>
<text class="cv" transform="translate(481.81 1047.25) matrix(1 .001 0 1 0 0) scale(1 1.06)">0.51</text>
<text class="cv" transform="translate(521.3 1047.25) matrix(1 .001 0 1 0 0) scale(1 1.06)">0.48</text>
<text class="cv" transform="translate(560.8 1047.25) matrix(1 .001 0 1 0 0) scale(1 1.06)">0.40</text>
<text class="cv" transform="translate(600.3 1047.25) matrix(1 .001 0 1 0 0) scale(1 1.06)">0.50</text>
<text class="cv hy" transform="translate(87.12 1083.38) matrix(1 .001 0 1 0 0) scale(1 1.06)">--</text>
<text class="cv hy" transform="translate(126.62 1083.38) matrix(1 .001 0 1 0 0) scale(1 1.06)">--</text>
<text class="cv w" transform="translate(165.82 1083.42) matrix(1 .001 0 1 0 0) scale(1 1.06)">0.61</text>
<text class="cv w" transform="translate(205.31 1083.42) matrix(1 .001 0 1 0 0) scale(1 1.06)">0.67</text>
<text class="cv w" transform="translate(244.81 1083.42) matrix(1 .001 0 1 0 0) scale(1 1.06)">0.57</text>
<text class="cv w" transform="translate(284.31 1083.42) matrix(1 .001 0 1 0 0) scale(1 1.06)">0.58</text>
<text class="cv w" transform="translate(323.81 1083.42) matrix(1 .001 0 1 0 0) scale(1 1.06)">0.56</text>
<text class="cv w" transform="translate(363.31 1083.42) matrix(1 .001 0 1 0 0) scale(1 1.06)">0.55</text>
<text class="cv w" transform="translate(402.81 1083.42) matrix(1 .001 0 1 0 0) scale(1 1.06)">0.57</text>
<text class="cv w" transform="translate(442.31 1083.42) matrix(1 .001 0 1 0 0) scale(1 1.06)">0.57</text>
<text class="cv w" transform="translate(481.81 1083.42) matrix(1 .001 0 1 0 0) scale(1 1.06)">0.58</text>
<text class="cv w" transform="translate(521.3 1083.42) matrix(1 .001 0 1 0 0) scale(1 1.06)">0.57</text>
<text class="cv w" transform="translate(560.8 1083.42) matrix(1 .001 0 1 0 0) scale(1 1.06)">0.56</text>
<text class="cv w" transform="translate(600.3 1083.42) matrix(1 .001 0 1 0 0) scale(1 1.06)">0.57</text>
<text class="cv hy" transform="translate(87.12 1119.55) matrix(1 .001 0 1 0 0) scale(1 1.06)">--</text>
<text class="cv w" transform="translate(126.32 1119.6) matrix(1 .001 0 1 0 0) scale(1 1.06)">0.55</text>
<text class="cv w" transform="translate(165.82 1119.6) matrix(1 .001 0 1 0 0) scale(1 1.06)">0.61</text>
<text class="cv w" transform="translate(205.31 1119.6) matrix(1 .001 0 1 0 0) scale(1 1.06)">0.68</text>
<text class="cv w" transform="translate(244.81 1119.6) matrix(1 .001 0 1 0 0) scale(1 1.06)">0.58</text>
<text class="cv w" transform="translate(284.31 1119.6) matrix(1 .001 0 1 0 0) scale(1 1.06)">0.58</text>
<text class="cv w" transform="translate(323.81 1119.6) matrix(1 .001 0 1 0 0) scale(1 1.06)">0.56</text>
<text class="cv w" transform="translate(363.31 1119.6) matrix(1 .001 0 1 0 0) scale(1 1.06)">0.55</text>
<text class="cv w" transform="translate(402.81 1119.6) matrix(1 .001 0 1 0 0) scale(1 1.06)">0.57</text>
<text class="cv w" transform="translate(442.31 1119.6) matrix(1 .001 0 1 0 0) scale(1 1.06)">0.58</text>
<text class="cv w" transform="translate(481.81 1119.6) matrix(1 .001 0 1 0 0) scale(1 1.06)">0.58</text>
<text class="cv w" transform="translate(521.3 1119.6) matrix(1 .001 0 1 0 0) scale(1 1.06)">0.57</text>
<text class="cv w" transform="translate(560.8 1119.6) matrix(1 .001 0 1 0 0) scale(1 1.06)">0.56</text>
<text class="cv w" transform="translate(600.3 1119.6) matrix(1 .001 0 1 0 0) scale(1 1.06)">0.57</text>
<text class="cv w" transform="translate(86.82 1155.78) matrix(1 .001 0 1 0 0) scale(1 1.06)">0.57</text>
<text class="cv w" transform="translate(126.32 1155.78) matrix(1 .001 0 1 0 0) scale(1 1.06)">0.56</text>
<text class="cv w" transform="translate(165.82 1155.78) matrix(1 .001 0 1 0 0) scale(1 1.06)">0.58</text>
<text class="cv w" transform="translate(205.31 1155.78) matrix(1 .001 0 1 0 0) scale(1 1.06)">0.67</text>
<text class="cv w" transform="translate(244.81 1155.78) matrix(1 .001 0 1 0 0) scale(1 1.06)">0.55</text>
<text class="cv w" transform="translate(284.31 1155.78) matrix(1 .001 0 1 0 0) scale(1 1.06)">0.57</text>
<text class="cv w" transform="translate(323.81 1155.78) matrix(1 .001 0 1 0 0) scale(1 1.06)">0.55</text>
<text class="cv" transform="translate(363.31 1155.78) matrix(1 .001 0 1 0 0) scale(1 1.06)">0.52</text>
<text class="cv w" transform="translate(402.81 1155.78) matrix(1 .001 0 1 0 0) scale(1 1.06)">0.55</text>
<text class="cv w" transform="translate(442.31 1155.78) matrix(1 .001 0 1 0 0) scale(1 1.06)">0.55</text>
<text class="cv w" transform="translate(481.81 1155.78) matrix(1 .001 0 1 0 0) scale(1 1.06)">0.56</text>
<text class="cv w" transform="translate(521.3 1155.78) matrix(1 .001 0 1 0 0) scale(1 1.06)">0.54</text>
<text class="cv" transform="translate(560.8 1155.78) matrix(1 .001 0 1 0 0) scale(1 1.06)">0.52</text>
<text class="cv w" transform="translate(600.3 1155.78) matrix(1 .001 0 1 0 0) scale(1 1.06)">0.54</text>
</g>
<rect class="ax" x="67.77" y="659.77" width="552.98" height="507.43"/>
<path class="tk" d="M58.67 678.18H67.77"/>
<text class="tl" text-anchor="end" transform="translate(51.77 686.53) matrix(1 .001 0 1 0 0) scale(1 1.02)">X14</text>
<path class="tk" d="M58.67 714.45H67.77"/>
<text class="tl" text-anchor="end" transform="translate(51.77 722.8) matrix(1 .001 0 1 0 0) scale(1 1.02)">X13</text>
<path class="tk" d="M58.67 750.71H67.77"/>
<text class="tl" text-anchor="end" transform="translate(51.77 759.06) matrix(1 .001 0 1 0 0) scale(1 1.02)">X12</text>
<path class="tk" d="M58.67 786.97H67.77"/>
<text class="tl" text-anchor="end" transform="translate(51.77 795.32) matrix(1 .001 0 1 0 0) scale(1 1.02)">X11</text>
<path class="tk" d="M58.67 823.24H67.77"/>
<text class="tl" text-anchor="end" transform="translate(51.77 831.59) matrix(1 .001 0 1 0 0) scale(1 1.02)">X10</text>
<path class="tk" d="M58.67 859.5H67.77"/>
<text class="tl" text-anchor="end" transform="translate(51.77 867.85) matrix(1 .001 0 1 0 0) scale(1 1.02)">X9</text>
<path class="tk" d="M58.67 895.77H67.77"/>
<text class="tl" text-anchor="end" transform="translate(51.77 904.12) matrix(1 .001 0 1 0 0) scale(1 1.02)">X8</text>
<path class="tk" d="M58.67 932.03H67.77"/>
<text class="tl" text-anchor="end" transform="translate(51.77 940.38) matrix(1 .001 0 1 0 0) scale(1 1.02)">X7</text>
<path class="tk" d="M58.67 968.3H67.77"/>
<text class="tl" text-anchor="end" transform="translate(51.77 976.65) matrix(1 .001 0 1 0 0) scale(1 1.02)">X6</text>
<path class="tk" d="M58.67 1004.56H67.77"/>
<text class="tl" text-anchor="end" transform="translate(51.77 1012.91) matrix(1 .001 0 1 0 0) scale(1 1.02)">X5</text>
<path class="tk" d="M58.67 1040.83H67.77"/>
<text class="tl" text-anchor="end" transform="translate(51.77 1049.17) matrix(1 .001 0 1 0 0) scale(1 1.02)">X4</text>
<path class="tk" d="M58.67 1077.09H67.77"/>
<text class="tl" text-anchor="end" transform="translate(51.77 1085.44) matrix(1 .001 0 1 0 0) scale(1 1.02)">X3</text>
<path class="tk" d="M58.67 1113.35H67.77"/>
<text class="tl" text-anchor="end" transform="translate(51.77 1121.7) matrix(1 .001 0 1 0 0) scale(1 1.02)">X2</text>
<path class="tk" d="M58.67 1149.62H67.77"/>
<text class="tl" text-anchor="end" transform="translate(51.77 1157.97) matrix(1 .001 0 1 0 0) scale(1 1.02)">X1</text>
<path class="tk" d="M87.32 1167.2V1175.7"/>
<text class="tl" text-anchor="end" transform="translate(105.52 1190.7) rotate(-45) scale(1 1.02)">X2</text>
<path class="tk" d="M126.82 1167.2V1175.7"/>
<text class="tl" text-anchor="end" transform="translate(145.02 1190.7) rotate(-45) scale(1 1.02)">X3</text>
<path class="tk" d="M166.32 1167.2V1175.7"/>
<text class="tl" text-anchor="end" transform="translate(184.52 1190.7) rotate(-45) scale(1 1.02)">X4</text>
<path class="tk" d="M205.81 1167.2V1175.7"/>
<text class="tl" text-anchor="end" transform="translate(224.01 1190.7) rotate(-45) scale(1 1.02)">X5</text>
<path class="tk" d="M245.31 1167.2V1175.7"/>
<text class="tl" text-anchor="end" transform="translate(263.51 1190.7) rotate(-45) scale(1 1.02)">X6</text>
<path class="tk" d="M284.81 1167.2V1175.7"/>
<text class="tl" text-anchor="end" transform="translate(303.01 1190.7) rotate(-45) scale(1 1.02)">X7</text>
<path class="tk" d="M324.31 1167.2V1175.7"/>
<text class="tl" text-anchor="end" transform="translate(342.51 1190.7) rotate(-45) scale(1 1.02)">X8</text>
<path class="tk" d="M363.81 1167.2V1175.7"/>
<text class="tl" text-anchor="end" transform="translate(382.01 1190.7) rotate(-45) scale(1 1.02)">X9</text>
<path class="tk" d="M403.31 1167.2V1175.7"/>
<text class="tl" text-anchor="end" transform="translate(421.51 1190.7) rotate(-45) scale(1 1.02)">X10</text>
<path class="tk" d="M442.81 1167.2V1175.7"/>
<text class="tl" text-anchor="end" transform="translate(461.01 1190.7) rotate(-45) scale(1 1.02)">X11</text>
<path class="tk" d="M482.31 1167.2V1175.7"/>
<text class="tl" text-anchor="end" transform="translate(500.5 1190.7) rotate(-45) scale(1 1.02)">X12</text>
<path class="tk" d="M521.8 1167.2V1175.7"/>
<text class="tl" text-anchor="end" transform="translate(540 1190.7) rotate(-45) scale(1 1.02)">X13</text>
<path class="tk" d="M561.3 1167.2V1175.7"/>
<text class="tl" text-anchor="end" transform="translate(579.5 1190.7) rotate(-45) scale(1 1.02)">X14</text>
<path class="tk" d="M600.8 1167.2V1175.7"/>
<text class="tl" text-anchor="end" transform="translate(619 1190.7) rotate(-45) scale(1 1.02)">X15</text>
<text class="tt" style="font-size:32.5px" transform="translate(67.8 653.37) matrix(1 .001 0 1 0 0) scale(1 1.02)">(b) q-value (STI-Sichuan 2001-2011)</text>
<g shape-rendering="crispEdges">
<rect x="639" y="660.2" width="32.8" height="17.38" fill="#743a0b"/>
<rect x="639" y="677.08" width="32.8" height="17.38" fill="#7d4111"/>
<rect x="639" y="693.97" width="32.8" height="17.38" fill="#864818"/>
<rect x="639" y="710.85" width="32.8" height="17.38" fill="#8f4f1e"/>
<rect x="639" y="727.73" width="32.8" height="17.38" fill="#985724"/>
<rect x="639" y="744.62" width="32.8" height="17.38" fill="#a05e2a"/>
<rect x="639" y="761.5" width="32.8" height="17.38" fill="#a96530"/>
<rect x="639" y="778.38" width="32.8" height="17.38" fill="#b26c36"/>
<rect x="639" y="795.27" width="32.8" height="17.38" fill="#bb743d"/>
<rect x="639" y="812.15" width="32.8" height="17.38" fill="#c47b43"/>
<rect x="639" y="829.03" width="32.8" height="17.38" fill="#cc8249"/>
<rect x="639" y="845.92" width="32.8" height="17.38" fill="#d58a4f"/>
<rect x="639" y="862.8" width="32.8" height="17.38" fill="#de9156"/>
<rect x="639" y="879.68" width="32.8" height="17.38" fill="#e7985c"/>
<rect x="639" y="896.57" width="32.8" height="17.38" fill="#f09f62"/>
<rect x="639" y="913.45" width="32.8" height="17.38" fill="#f4a568"/>
<rect x="639" y="930.33" width="32.8" height="17.38" fill="#f5a86e"/>
<rect x="639" y="947.22" width="32.8" height="17.38" fill="#f5ac74"/>
<rect x="639" y="964.1" width="32.8" height="17.38" fill="#f6b079"/>
<rect x="639" y="980.98" width="32.8" height="17.38" fill="#f6b47f"/>
<rect x="639" y="997.87" width="32.8" height="17.38" fill="#f7b785"/>
<rect x="639" y="1014.75" width="32.8" height="17.38" fill="#f7bb8b"/>
<rect x="639" y="1031.63" width="32.8" height="17.38" fill="#f8be90"/>
<rect x="639" y="1048.52" width="32.8" height="17.38" fill="#f8c296"/>
<rect x="639" y="1065.4" width="32.8" height="17.38" fill="#f8c69c"/>
<rect x="639" y="1082.28" width="32.8" height="17.38" fill="#f9caa2"/>
<rect x="639" y="1099.17" width="32.8" height="17.38" fill="#f9cda8"/>
<rect x="639" y="1116.05" width="32.8" height="17.38" fill="#fad1ae"/>
<rect x="639" y="1132.93" width="32.8" height="17.38" fill="#fad4b3"/>
<rect x="639" y="1149.82" width="32.8" height="16.88" fill="#fbd8b9"/>
</g>
<rect class="cb" x="639" y="660.2" width="32.8" height="506.5"/>
<path class="cb" d="M671.8 660.2H680.5"/>
<text class="cl" transform="translate(690.7 668.35) matrix(1 .001 0 1 0 0) scale(1 1)">0.68</text>
<path class="cb" d="M671.8 761.5H680.5"/>
<text class="cl" transform="translate(690.7 769.65) matrix(1 .001 0 1 0 0) scale(1 1)">0.56</text>
<path class="cb" d="M671.8 862.8H680.5"/>
<text class="cl" transform="translate(690.7 870.95) matrix(1 .001 0 1 0 0) scale(1 1)">0.44</text>
<path class="cb" d="M671.8 964.1H680.5"/>
<text class="cl" transform="translate(690.7 972.25) matrix(1 .001 0 1 0 0) scale(1 1)">0.32</text>
<path class="cb" d="M671.8 1065.4H680.5"/>
<text class="cl" transform="translate(690.7 1073.55) matrix(1 .001 0 1 0 0) scale(1 1)">0.20</text>
<path class="cb" d="M671.8 1166.7H680.5"/>
<text class="cl" transform="translate(690.7 1174.85) matrix(1 .001 0 1 0 0) scale(1 1)">0.08</text>
</g>
<g id="panel-d">
<g shape-rendering="crispEdges">
<rect x="1377.75" y="659.8" width="39.5" height="36.76" fill="#f5ac74"/>
<rect x="1338.25" y="696.06" width="40" height="36.76" fill="#f6b683"/>
<rect x="1377.75" y="696.06" width="39.5" height="36.76" fill="#f4a76b"/>
<rect x="1298.75" y="732.33" width="40" height="36.76" fill="#f4a365"/>
<rect x="1338.25" y="732.33" width="40" height="36.76" fill="#f5ab71"/>
<rect x="1377.75" y="732.33" width="39.5" height="36.76" fill="#f4a365"/>
<rect x="1259.26" y="768.59" width="40" height="36.76" fill="#f4a568"/>
<rect x="1298.75" y="768.59" width="40" height="36.76" fill="#f5ac74"/>
<rect x="1338.25" y="768.59" width="40" height="36.76" fill="#f5ae77"/>
<rect x="1377.75" y="768.59" width="39.5" height="36.76" fill="#f5a96e"/>
<rect x="1219.76" y="804.86" width="40" height="36.76" fill="#f5ac74"/>
<rect x="1259.26" y="804.86" width="40" height="36.76" fill="#f5a96e"/>
<rect x="1298.75" y="804.86" width="40" height="36.76" fill="#f5ab71"/>
<rect x="1338.25" y="804.86" width="40" height="36.76" fill="#f6b480"/>
<rect x="1377.75" y="804.86" width="39.5" height="36.76" fill="#f5a96e"/>
<rect x="1180.26" y="841.12" width="40" height="36.76" fill="#f5a96e"/>
<rect x="1219.76" y="841.12" width="40" height="36.76" fill="#f5a96e"/>
<rect x="1259.26" y="841.12" width="40" height="36.76" fill="#f4a76b"/>
<rect x="1298.75" y="841.12" width="40" height="36.76" fill="#f6b07a"/>
<rect x="1338.25" y="841.12" width="40" height="36.76" fill="#f8c195"/>
<rect x="1377.75" y="841.12" width="39.5" height="36.76" fill="#f5a96e"/>
<rect x="1140.76" y="877.39" width="40" height="36.76" fill="#f8bf92"/>
<rect x="1180.26" y="877.39" width="40" height="36.76" fill="#f6b07a"/>
<rect x="1219.76" y="877.39" width="40" height="36.76" fill="#f5ae77"/>
<rect x="1259.26" y="877.39" width="40" height="36.76" fill="#f5a96e"/>
<rect x="1298.75" y="877.39" width="40" height="36.76" fill="#f6b27d"/>
<rect x="1338.25" y="877.39" width="40" height="36.76" fill="#f9cba4"/>
<rect x="1377.75" y="877.39" width="39.5" height="36.76" fill="#f5ab71"/>
<rect x="1101.26" y="913.65" width="40" height="36.76" fill="#f7bc8c"/>
<rect x="1140.76" y="913.65" width="40" height="36.76" fill="#f5ab71"/>
<rect x="1180.26" y="913.65" width="40" height="36.76" fill="#f5ab71"/>
<rect x="1219.76" y="913.65" width="40" height="36.76" fill="#f4a365"/>
<rect x="1259.26" y="913.65" width="40" height="36.76" fill="#ef9f62"/>
<rect x="1298.75" y="913.65" width="40" height="36.76" fill="#f5ac74"/>
<rect x="1338.25" y="913.65" width="40" height="36.76" fill="#fbd8b9"/>
<rect x="1377.75" y="913.65" width="39.5" height="36.76" fill="#f4a365"/>
<rect x="1061.76" y="949.91" width="40" height="36.76" fill="#e6985b"/>
<rect x="1101.26" y="949.91" width="40" height="36.76" fill="#f4a76b"/>
<rect x="1140.76" y="949.91" width="40" height="36.76" fill="#f4a365"/>
<rect x="1180.26" y="949.91" width="40" height="36.76" fill="#f4a568"/>
<rect x="1219.76" y="949.91" width="40" height="36.76" fill="#f4a365"/>
<rect x="1259.26" y="949.91" width="40" height="36.76" fill="#f4a365"/>
<rect x="1298.75" y="949.91" width="40" height="36.76" fill="#f4a365"/>
<rect x="1338.25" y="949.91" width="40" height="36.76" fill="#f4a568"/>
<rect x="1377.75" y="949.91" width="39.5" height="36.76" fill="#f4a365"/>
<rect x="1022.26" y="986.18" width="40" height="36.76" fill="#7e4112"/>
<rect x="1061.76" y="986.18" width="40" height="36.76" fill="#793e0e"/>
<rect x="1101.26" y="986.18" width="40" height="36.76" fill="#874918"/>
<rect x="1140.76" y="986.18" width="40" height="36.76" fill="#874918"/>
<rect x="1180.26" y="986.18" width="40" height="36.76" fill="#824515"/>
<rect x="1219.76" y="986.18" width="40" height="36.76" fill="#824515"/>
<rect x="1259.26" y="986.18" width="40" height="36.76" fill="#7e4112"/>
<rect x="1298.75" y="986.18" width="40" height="36.76" fill="#824515"/>
<rect x="1338.25" y="986.18" width="40" height="36.76" fill="#874918"/>
<rect x="1377.75" y="986.18" width="39.5" height="36.76" fill="#7e4112"/>
<rect x="982.77" y="1022.44" width="40" height="36.76" fill="#793e0e"/>
<rect x="1022.26" y="1022.44" width="40" height="36.76" fill="#bd763f"/>
<rect x="1061.76" y="1022.44" width="40" height="36.76" fill="#d98c52"/>
<rect x="1101.26" y="1022.44" width="40" height="36.76" fill="#dd9055"/>
<rect x="1140.76" y="1022.44" width="40" height="36.76" fill="#d98c52"/>
<rect x="1180.26" y="1022.44" width="40" height="36.76" fill="#c67d45"/>
<rect x="1219.76" y="1022.44" width="40" height="36.76" fill="#c67d45"/>
<rect x="1259.26" y="1022.44" width="40" height="36.76" fill="#c27a42"/>
<rect x="1298.75" y="1022.44" width="40" height="36.76" fill="#d0854b"/>
<rect x="1338.25" y="1022.44" width="40" height="36.76" fill="#ef9f62"/>
<rect x="1377.75" y="1022.44" width="39.5" height="36.76" fill="#c27a42"/>
<rect x="943.27" y="1058.71" width="40" height="36.76" fill="#8b4d1b"/>
<rect x="982.77" y="1058.71" width="40" height="36.76" fill="#703608"/>
<rect x="1022.26" y="1058.71" width="40" height="36.76" fill="#a7632e"/>
<rect x="1061.76" y="1058.71" width="40" height="36.76" fill="#995825"/>
<rect x="1101.26" y="1058.71" width="40" height="36.76" fill="#a7632e"/>
<rect x="1140.76" y="1058.71" width="40" height="36.76" fill="#a25f2b"/>
<rect x="1180.26" y="1058.71" width="40" height="36.76" fill="#a7632e"/>
<rect x="1219.76" y="1058.71" width="40" height="36.76" fill="#a7632e"/>
<rect x="1259.26" y="1058.71" width="40" height="36.76" fill="#a7632e"/>
<rect x="1298.75" y="1058.71" width="40" height="36.76" fill="#a7632e"/>
<rect x="1338.25" y="1058.71" width="40" height="36.76" fill="#a25f2b"/>
<rect x="1377.75" y="1058.71" width="39.5" height="36.76" fill="#a25f2b"/>
<rect x="903.77" y="1094.97" width="40" height="36.76" fill="#a7632e"/>
<rect x="943.27" y="1094.97" width="40" height="36.76" fill="#8b4d1b"/>
<rect x="982.77" y="1094.97" width="40" height="36.76" fill="#703608"/>
<rect x="1022.26" y="1094.97" width="40" height="36.76" fill="#a25f2b"/>
<rect x="1061.76" y="1094.97" width="40" height="36.76" fill="#9e5c28"/>
<rect x="1101.26" y="1094.97" width="40" height="36.76" fill="#a7632e"/>
<rect x="1140.76" y="1094.97" width="40" height="36.76" fill="#a25f2b"/>
<rect x="1180.26" y="1094.97" width="40" height="36.76" fill="#a7632e"/>
<rect x="1219.76" y="1094.97" width="40" height="36.76" fill="#a25f2b"/>
<rect x="1259.26" y="1094.97" width="40" height="36.76" fill="#a25f2b"/>
<rect x="1298.75" y="1094.97" width="40" height="36.76" fill="#a7632e"/>
<rect x="1338.25" y="1094.97" width="40" height="36.76" fill="#a25f2b"/>
<rect x="1377.75" y="1094.97" width="39.5" height="36.76" fill="#a25f2b"/>
<rect x="864.27" y="1131.24" width="40" height="36.26" fill="#9e5c28"/>
<rect x="903.77" y="1131.24" width="40" height="36.26" fill="#a25f2b"/>
<rect x="943.27" y="1131.24" width="40" height="36.26" fill="#945422"/>
<rect x="982.77" y="1131.24" width="40" height="36.26" fill="#753a0b"/>
<rect x="1022.26" y="1131.24" width="40" height="36.26" fill="#ab6732"/>
<rect x="1061.76" y="1131.24" width="40" height="36.26" fill="#995825"/>
<rect x="1101.26" y="1131.24" width="40" height="36.26" fill="#b46e38"/>
<rect x="1140.76" y="1131.24" width="40" height="36.26" fill="#ab6732"/>
<rect x="1180.26" y="1131.24" width="40" height="36.26" fill="#b06b35"/>
<rect x="1219.76" y="1131.24" width="40" height="36.26" fill="#b06b35"/>
<rect x="1259.26" y="1131.24" width="40" height="36.26" fill="#ab6732"/>
<rect x="1298.75" y="1131.24" width="40" height="36.26" fill="#b06b35"/>
<rect x="1338.25" y="1131.24" width="40" height="36.26" fill="#b06b35"/>
<rect x="1377.75" y="1131.24" width="39.5" height="36.26" fill="#ab6732"/>
</g>
<g>
<text class="cv hy" transform="translate(883.62 685.45) matrix(1 .001 0 1 0 0) scale(1 1.06)">--</text>
<text class="cv hy" transform="translate(923.12 685.45) matrix(1 .001 0 1 0 0) scale(1 1.06)">--</text>
<text class="cv hy" transform="translate(962.62 685.45) matrix(1 .001 0 1 0 0) scale(1 1.06)">--</text>
<text class="cv hy" transform="translate(1002.11 685.45) matrix(1 .001 0 1 0 0) scale(1 1.06)">--</text>
<text class="cv hy" transform="translate(1041.61 685.45) matrix(1 .001 0 1 0 0) scale(1 1.06)">--</text>
<text class="cv hy" transform="translate(1081.11 685.45) matrix(1 .001 0 1 0 0) scale(1 1.06)">--</text>
<text class="cv hy" transform="translate(1120.61 685.45) matrix(1 .001 0 1 0 0) scale(1 1.06)">--</text>
<text class="cv hy" transform="translate(1160.11 685.45) matrix(1 .001 0 1 0 0) scale(1 1.06)">--</text>
<text class="cv hy" transform="translate(1199.61 685.45) matrix(1 .001 0 1 0 0) scale(1 1.06)">--</text>
<text class="cv hy" transform="translate(1239.11 685.45) matrix(1 .001 0 1 0 0) scale(1 1.06)">--</text>
<text class="cv hy" transform="translate(1278.61 685.45) matrix(1 .001 0 1 0 0) scale(1 1.06)">--</text>
<text class="cv hy" transform="translate(1318.1 685.45) matrix(1 .001 0 1 0 0) scale(1 1.06)">--</text>
<text class="cv hy" transform="translate(1357.6 685.45) matrix(1 .001 0 1 0 0) scale(1 1.06)">--</text>
<text class="cv" transform="translate(1396.8 685.5) matrix(1 .001 0 1 0 0) scale(1 1.06)">0.34</text>
<text class="cv hy" transform="translate(883.62 721.62) matrix(1 .001 0 1 0 0) scale(1 1.06)">--</text>
<text class="cv hy" transform="translate(923.12 721.62) matrix(1 .001 0 1 0 0) scale(1 1.06)">--</text>
<text class="cv hy" transform="translate(962.62 721.62) matrix(1 .001 0 1 0 0) scale(1 1.06)">--</text>
<text class="cv hy" transform="translate(1002.11 721.62) matrix(1 .001 0 1 0 0) scale(1 1.06)">--</text>
<text class="cv hy" transform="translate(1041.61 721.62) matrix(1 .001 0 1 0 0) scale(1 1.06)">--</text>
<text class="cv hy" transform="translate(1081.11 721.62) matrix(1 .001 0 1 0 0) scale(1 1.06)">--</text>
<text class="cv hy" transform="translate(1120.61 721.62) matrix(1 .001 0 1 0 0) scale(1 1.06)">--</text>
<text class="cv hy" transform="translate(1160.11 721.62) matrix(1 .001 0 1 0 0) scale(1 1.06)">--</text>
<text class="cv hy" transform="translate(1199.61 721.62) matrix(1 .001 0 1 0 0) scale(1 1.06)">--</text>
<text class="cv hy" transform="translate(1239.11 721.62) matrix(1 .001 0 1 0 0) scale(1 1.06)">--</text>
<text class="cv hy" transform="translate(1278.61 721.62) matrix(1 .001 0 1 0 0) scale(1 1.06)">--</text>
<text class="cv hy" transform="translate(1318.1 721.62) matrix(1 .001 0 1 0 0) scale(1 1.06)">--</text>
<text class="cv" transform="translate(1357.3 721.67) matrix(1 .001 0 1 0 0) scale(1 1.06)">0.29</text>
<text class="cv" transform="translate(1396.8 721.67) matrix(1 .001 0 1 0 0) scale(1 1.06)">0.37</text>
<text class="cv hy" transform="translate(883.62 757.8) matrix(1 .001 0 1 0 0) scale(1 1.06)">--</text>
<text class="cv hy" transform="translate(923.12 757.8) matrix(1 .001 0 1 0 0) scale(1 1.06)">--</text>
<text class="cv hy" transform="translate(962.62 757.8) matrix(1 .001 0 1 0 0) scale(1 1.06)">--</text>
<text class="cv hy" transform="translate(1002.11 757.8) matrix(1 .001 0 1 0 0) scale(1 1.06)">--</text>
<text class="cv hy" transform="translate(1041.61 757.8) matrix(1 .001 0 1 0 0) scale(1 1.06)">--</text>
<text class="cv hy" transform="translate(1081.11 757.8) matrix(1 .001 0 1 0 0) scale(1 1.06)">--</text>
<text class="cv hy" transform="translate(1120.61 757.8) matrix(1 .001 0 1 0 0) scale(1 1.06)">--</text>
<text class="cv hy" transform="translate(1160.11 757.8) matrix(1 .001 0 1 0 0) scale(1 1.06)">--</text>
<text class="cv hy" transform="translate(1199.61 757.8) matrix(1 .001 0 1 0 0) scale(1 1.06)">--</text>
<text class="cv hy" transform="translate(1239.11 757.8) matrix(1 .001 0 1 0 0) scale(1 1.06)">--</text>
<text class="cv hy" transform="translate(1278.61 757.8) matrix(1 .001 0 1 0 0) scale(1 1.06)">--</text>
<text class="cv" transform="translate(1317.8 757.85) matrix(1 .001 0 1 0 0) scale(1 1.06)">0.39</text>
<text class="cv" transform="translate(1357.3 757.85) matrix(1 .001 0 1 0 0) scale(1 1.06)">0.35</text>
<text class="cv" transform="translate(1396.8 757.85) matrix(1 .001 0 1 0 0) scale(1 1.06)">0.39</text>
<text class="cv hy" transform="translate(883.62 793.98) matrix(1 .001 0 1 0 0) scale(1 1.06)">--</text>
<text class="cv hy" transform="translate(923.12 793.98) matrix(1 .001 0 1 0 0) scale(1 1.06)">--</text>
<text class="cv hy" transform="translate(962.62 793.98) matrix(1 .001 0 1 0 0) scale(1 1.06)">--</text>
<text class="cv hy" transform="translate(1002.11 793.98) matrix(1 .001 0 1 0 0) scale(1 1.06)">--</text>
<text class="cv hy" transform="translate(1041.61 793.98) matrix(1 .001 0 1 0 0) scale(1 1.06)">--</text>
<text class="cv hy" transform="translate(1081.11 793.98) matrix(1 .001 0 1 0 0) scale(1 1.06)">--</text>
<text class="cv hy" transform="translate(1120.61 793.98) matrix(1 .001 0 1 0 0) scale(1 1.06)">--</text>
<text class="cv hy" transform="translate(1160.11 793.98) matrix(1 .001 0 1 0 0) scale(1 1.06)">--</text>
<text class="cv hy" transform="translate(1199.61 793.98) matrix(1 .001 0 1 0 0) scale(1 1.06)">--</text>
<text class="cv hy" transform="translate(1239.11 793.98) matrix(1 .001 0 1 0 0) scale(1 1.06)">--</text>
<text class="cv" transform="translate(1278.31 794.02) matrix(1 .001 0 1 0 0) scale(1 1.06)">0.38</text>
<text class="cv" transform="translate(1317.8 794.02) matrix(1 .001 0 1 0 0) scale(1 1.06)">0.34</text>
<text class="cv" transform="translate(1357.3 794.02) matrix(1 .001 0 1 0 0) scale(1 1.06)">0.33</text>
<text class="cv" transform="translate(1396.8 794.02) matrix(1 .001 0 1 0 0) scale(1 1.06)">0.36</text>
<text class="cv hy" transform="translate(883.62 830.15) matrix(1 .001 0 1 0 0) scale(1 1.06)">--</text>
<text class="cv hy" transform="translate(923.12 830.15) matrix(1 .001 0 1 0 0) scale(1 1.06)">--</text>
<text class="cv hy" transform="translate(962.62 830.15) matrix(1 .001 0 1 0 0) scale(1 1.06)">--</text>
<text class="cv hy" transform="translate(1002.11 830.15) matrix(1 .001 0 1 0 0) scale(1 1.06)">--</text>
<text class="cv hy" transform="translate(1041.61 830.15) matrix(1 .001 0 1 0 0) scale(1 1.06)">--</text>
<text class="cv hy" transform="translate(1081.11 830.15) matrix(1 .001 0 1 0 0) scale(1 1.06)">--</text>
<text class="cv hy" transform="translate(1120.61 830.15) matrix(1 .001 0 1 0 0) scale(1 1.06)">--</text>
<text class="cv hy" transform="translate(1160.11 830.15) matrix(1 .001 0 1 0 0) scale(1 1.06)">--</text>
<text class="cv hy" transform="translate(1199.61 830.15) matrix(1 .001 0 1 0 0) scale(1 1.06)">--</text>
<text class="cv" transform="translate(1238.81 830.2) matrix(1 .001 0 1 0 0) scale(1 1.06)">0.34</text>
<text class="cv" transform="translate(1278.31 830.2) matrix(1 .001 0 1 0 0) scale(1 1.06)">0.36</text>
<text class="cv" transform="translate(1317.8 830.2) matrix(1 .001 0 1 0 0) scale(1 1.06)">0.35</text>
<text class="cv" transform="translate(1357.3 830.2) matrix(1 .001 0 1 0 0) scale(1 1.06)">0.30</text>
<text class="cv" transform="translate(1396.8 830.2) matrix(1 .001 0 1 0 0) scale(1 1.06)">0.36</text>
<text class="cv hy" transform="translate(883.62 866.33) matrix(1 .001 0 1 0 0) scale(1 1.06)">--</text>
<text class="cv hy" transform="translate(923.12 866.33) matrix(1 .001 0 1 0 0) scale(1 1.06)">--</text>
<text class="cv hy" transform="translate(962.62 866.33) matrix(1 .001 0 1 0 0) scale(1 1.06)">--</text>
<text class="cv hy" transform="translate(1002.11 866.33) matrix(1 .001 0 1 0 0) scale(1 1.06)">--</text>
<text class="cv hy" transform="translate(1041.61 866.33) matrix(1 .001 0 1 0 0) scale(1 1.06)">--</text>
<text class="cv hy" transform="translate(1081.11 866.33) matrix(1 .001 0 1 0 0) scale(1 1.06)">--</text>
<text class="cv hy" transform="translate(1120.61 866.33) matrix(1 .001 0 1 0 0) scale(1 1.06)">--</text>
<text class="cv hy" transform="translate(1160.11 866.33) matrix(1 .001 0 1 0 0) scale(1 1.06)">--</text>
<text class="cv" transform="translate(1199.31 866.38) matrix(1 .001 0 1 0 0) scale(1 1.06)">0.36</text>
<text class="cv" transform="translate(1238.81 866.38) matrix(1 .001 0 1 0 0) scale(1 1.06)">0.36</text>
<text class="cv" transform="translate(1278.31 866.38) matrix(1 .001 0 1 0 0) scale(1 1.06)">0.37</text>
<text class="cv" transform="translate(1317.8 866.38) matrix(1 .001 0 1 0 0) scale(1 1.06)">0.32</text>
<text class="cv" transform="translate(1357.3 866.38) matrix(1 .001 0 1 0 0) scale(1 1.06)">0.23</text>
<text class="cv" transform="translate(1396.8 866.38) matrix(1 .001 0 1 0 0) scale(1 1.06)">0.36</text>
<text class="cv hy" transform="translate(883.62 902.5) matrix(1 .001 0 1 0 0) scale(1 1.06)">--</text>
<text class="cv hy" transform="translate(923.12 902.5) matrix(1 .001 0 1 0 0) scale(1 1.06)">--</text>
<text class="cv hy" transform="translate(962.62 902.5) matrix(1 .001 0 1 0 0) scale(1 1.06)">--</text>
<text class="cv hy" transform="translate(1002.11 902.5) matrix(1 .001 0 1 0 0) scale(1 1.06)">--</text>
<text class="cv hy" transform="translate(1041.61 902.5) matrix(1 .001 0 1 0 0) scale(1 1.06)">--</text>
<text class="cv hy" transform="translate(1081.11 902.5) matrix(1 .001 0 1 0 0) scale(1 1.06)">--</text>
<text class="cv hy" transform="translate(1120.61 902.5) matrix(1 .001 0 1 0 0) scale(1 1.06)">--</text>
<text class="cv" transform="translate(1159.81 902.55) matrix(1 .001 0 1 0 0) scale(1 1.06)">0.24</text>
<text class="cv" transform="translate(1199.31 902.55) matrix(1 .001 0 1 0 0) scale(1 1.06)">0.32</text>
<text class="cv" transform="translate(1238.81 902.55) matrix(1 .001 0 1 0 0) scale(1 1.06)">0.33</text>
<text class="cv" transform="translate(1278.31 902.55) matrix(1 .001 0 1 0 0) scale(1 1.06)">0.36</text>
<text class="cv" transform="translate(1317.8 902.55) matrix(1 .001 0 1 0 0) scale(1 1.06)">0.31</text>
<text class="cv" transform="translate(1357.3 902.55) matrix(1 .001 0 1 0 0) scale(1 1.06)">0.18</text>
<text class="cv" transform="translate(1396.8 902.55) matrix(1 .001 0 1 0 0) scale(1 1.06)">0.35</text>
<text class="cv hy" transform="translate(883.62 938.67) matrix(1 .001 0 1 0 0) scale(1 1.06)">--</text>
<text class="cv hy" transform="translate(923.12 938.67) matrix(1 .001 0 1 0 0) scale(1 1.06)">--</text>
<text class="cv hy" transform="translate(962.62 938.67) matrix(1 .001 0 1 0 0) scale(1 1.06)">--</text>
<text class="cv hy" transform="translate(1002.11 938.67) matrix(1 .001 0 1 0 0) scale(1 1.06)">--</text>
<text class="cv hy" transform="translate(1041.61 938.67) matrix(1 .001 0 1 0 0) scale(1 1.06)">--</text>
<text class="cv hy" transform="translate(1081.11 938.67) matrix(1 .001 0 1 0 0) scale(1 1.06)">--</text>
<text class="cv" transform="translate(1120.31 938.72) matrix(1 .001 0 1 0 0) scale(1 1.06)">0.26</text>
<text class="cv" transform="translate(1159.81 938.72) matrix(1 .001 0 1 0 0) scale(1 1.06)">0.35</text>
<text class="cv" transform="translate(1199.31 938.72) matrix(1 .001 0 1 0 0) scale(1 1.06)">0.35</text>
<text class="cv" transform="translate(1238.81 938.72) matrix(1 .001 0 1 0 0) scale(1 1.06)">0.39</text>
<text class="cv" transform="translate(1278.31 938.72) matrix(1 .001 0 1 0 0) scale(1 1.06)">0.40</text>
<text class="cv" transform="translate(1317.8 938.72) matrix(1 .001 0 1 0 0) scale(1 1.06)">0.34</text>
<text class="cv" transform="translate(1357.3 938.72) matrix(1 .001 0 1 0 0) scale(1 1.06)">0.11</text>
<text class="cv" transform="translate(1396.8 938.72) matrix(1 .001 0 1 0 0) scale(1 1.06)">0.39</text>
<text class="cv hy" transform="translate(883.62 974.85) matrix(1 .001 0 1 0 0) scale(1 1.06)">--</text>
<text class="cv hy" transform="translate(923.12 974.85) matrix(1 .001 0 1 0 0) scale(1 1.06)">--</text>
<text class="cv hy" transform="translate(962.62 974.85) matrix(1 .001 0 1 0 0) scale(1 1.06)">--</text>
<text class="cv hy" transform="translate(1002.11 974.85) matrix(1 .001 0 1 0 0) scale(1 1.06)">--</text>
<text class="cv hy" transform="translate(1041.61 974.85) matrix(1 .001 0 1 0 0) scale(1 1.06)">--</text>
<text class="cv" transform="translate(1080.81 974.9) matrix(1 .001 0 1 0 0) scale(1 1.06)">0.42</text>
<text class="cv" transform="translate(1120.31 974.9) matrix(1 .001 0 1 0 0) scale(1 1.06)">0.37</text>
<text class="cv" transform="translate(1159.81 974.9) matrix(1 .001 0 1 0 0) scale(1 1.06)">0.39</text>
<text class="cv" transform="translate(1199.31 974.9) matrix(1 .001 0 1 0 0) scale(1 1.06)">0.38</text>
<text class="cv" transform="translate(1238.81 974.9) matrix(1 .001 0 1 0 0) scale(1 1.06)">0.39</text>
<text class="cv" transform="translate(1278.31 974.9) matrix(1 .001 0 1 0 0) scale(1 1.06)">0.39</text>
<text class="cv" transform="translate(1317.8 974.9) matrix(1 .001 0 1 0 0) scale(1 1.06)">0.39</text>
<text class="cv" transform="translate(1357.3 974.9) matrix(1 .001 0 1 0 0) scale(1 1.06)">0.38</text>
<text class="cv" transform="translate(1396.8 974.9) matrix(1 .001 0 1 0 0) scale(1 1.06)">0.39</text>
<text class="cv hy" transform="translate(883.62 1011.03) matrix(1 .001 0 1 0 0) scale(1 1.06)">--</text>
<text class="cv hy" transform="translate(923.12 1011.03) matrix(1 .001 0 1 0 0) scale(1 1.06)">--</text>
<text class="cv hy" transform="translate(962.62 1011.03) matrix(1 .001 0 1 0 0) scale(1 1.06)">--</text>
<text class="cv hy" transform="translate(1002.11 1011.03) matrix(1 .001 0 1 0 0) scale(1 1.06)">--</text>
<text class="cv w" transform="translate(1041.31 1011.08) matrix(1 .001 0 1 0 0) scale(1 1.06)">0.65</text>
<text class="cv w" transform="translate(1080.81 1011.08) matrix(1 .001 0 1 0 0) scale(1 1.06)">0.66</text>
<text class="cv w" transform="translate(1120.31 1011.08) matrix(1 .001 0 1 0 0) scale(1 1.06)">0.63</text>
<text class="cv w" transform="translate(1159.81 1011.08) matrix(1 .001 0 1 0 0) scale(1 1.06)">0.63</text>
<text class="cv w" transform="translate(1199.31 1011.08) matrix(1 .001 0 1 0 0) scale(1 1.06)">0.64</text>
<text class="cv w" transform="translate(1238.81 1011.08) matrix(1 .001 0 1 0 0) scale(1 1.06)">0.64</text>
<text class="cv w" transform="translate(1278.31 1011.08) matrix(1 .001 0 1 0 0) scale(1 1.06)">0.65</text>
<text class="cv w" transform="translate(1317.8 1011.08) matrix(1 .001 0 1 0 0) scale(1 1.06)">0.64</text>
<text class="cv w" transform="translate(1357.3 1011.08) matrix(1 .001 0 1 0 0) scale(1 1.06)">0.63</text>
<text class="cv w" transform="translate(1396.8 1011.08) matrix(1 .001 0 1 0 0) scale(1 1.06)">0.65</text>
<text class="cv hy" transform="translate(883.62 1047.2) matrix(1 .001 0 1 0 0) scale(1 1.06)">--</text>
<text class="cv hy" transform="translate(923.12 1047.2) matrix(1 .001 0 1 0 0) scale(1 1.06)">--</text>
<text class="cv hy" transform="translate(962.62 1047.2) matrix(1 .001 0 1 0 0) scale(1 1.06)">--</text>
<text class="cv w" transform="translate(1001.81 1047.25) matrix(1 .001 0 1 0 0) scale(1 1.06)">0.66</text>
<text class="cv" transform="translate(1041.31 1047.25) matrix(1 .001 0 1 0 0) scale(1 1.06)">0.51</text>
<text class="cv" transform="translate(1080.81 1047.25) matrix(1 .001 0 1 0 0) scale(1 1.06)">0.45</text>
<text class="cv" transform="translate(1120.31 1047.25) matrix(1 .001 0 1 0 0) scale(1 1.06)">0.44</text>
<text class="cv" transform="translate(1159.81 1047.25) matrix(1 .001 0 1 0 0) scale(1 1.06)">0.45</text>
<text class="cv" transform="translate(1199.31 1047.25) matrix(1 .001 0 1 0 0) scale(1 1.06)">0.49</text>
<text class="cv" transform="translate(1238.81 1047.25) matrix(1 .001 0 1 0 0) scale(1 1.06)">0.49</text>
<text class="cv" transform="translate(1278.31 1047.25) matrix(1 .001 0 1 0 0) scale(1 1.06)">0.50</text>
<text class="cv" transform="translate(1317.8 1047.25) matrix(1 .001 0 1 0 0) scale(1 1.06)">0.47</text>
<text class="cv" transform="translate(1357.3 1047.25) matrix(1 .001 0 1 0 0) scale(1 1.06)">0.40</text>
<text class="cv" transform="translate(1396.8 1047.25) matrix(1 .001 0 1 0 0) scale(1 1.06)">0.50</text>
<text class="cv hy" transform="translate(883.62 1083.38) matrix(1 .001 0 1 0 0) scale(1 1.06)">--</text>
<text class="cv hy" transform="translate(923.12 1083.38) matrix(1 .001 0 1 0 0) scale(1 1.06)">--</text>
<text class="cv w" transform="translate(962.32 1083.42) matrix(1 .001 0 1 0 0) scale(1 1.06)">0.62</text>
<text class="cv w" transform="translate(1001.81 1083.42) matrix(1 .001 0 1 0 0) scale(1 1.06)">0.68</text>
<text class="cv w" transform="translate(1041.31 1083.42) matrix(1 .001 0 1 0 0) scale(1 1.06)">0.56</text>
<text class="cv w" transform="translate(1080.81 1083.42) matrix(1 .001 0 1 0 0) scale(1 1.06)">0.59</text>
<text class="cv w" transform="translate(1120.31 1083.42) matrix(1 .001 0 1 0 0) scale(1 1.06)">0.56</text>
<text class="cv w" transform="translate(1159.81 1083.42) matrix(1 .001 0 1 0 0) scale(1 1.06)">0.57</text>
<text class="cv w" transform="translate(1199.31 1083.42) matrix(1 .001 0 1 0 0) scale(1 1.06)">0.56</text>
<text class="cv w" transform="translate(1238.81 1083.42) matrix(1 .001 0 1 0 0) scale(1 1.06)">0.56</text>
<text class="cv w" transform="translate(1278.31 1083.42) matrix(1 .001 0 1 0 0) scale(1 1.06)">0.56</text>
<text class="cv w" transform="translate(1317.8 1083.42) matrix(1 .001 0 1 0 0) scale(1 1.06)">0.56</text>
<text class="cv w" transform="translate(1357.3 1083.42) matrix(1 .001 0 1 0 0) scale(1 1.06)">0.57</text>
<text class="cv w" transform="translate(1396.8 1083.42) matrix(1 .001 0 1 0 0) scale(1 1.06)">0.57</text>
<text class="cv hy" transform="translate(883.62 1119.55) matrix(1 .001 0 1 0 0) scale(1 1.06)">--</text>
<text class="cv w" transform="translate(922.82 1119.6) matrix(1 .001 0 1 0 0) scale(1 1.06)">0.56</text>
<text class="cv w" transform="translate(962.32 1119.6) matrix(1 .001 0 1 0 0) scale(1 1.06)">0.62</text>
<text class="cv w" transform="translate(1001.81 1119.6) matrix(1 .001 0 1 0 0) scale(1 1.06)">0.68</text>
<text class="cv w" transform="translate(1041.31 1119.6) matrix(1 .001 0 1 0 0) scale(1 1.06)">0.57</text>
<text class="cv w" transform="translate(1080.81 1119.6) matrix(1 .001 0 1 0 0) scale(1 1.06)">0.58</text>
<text class="cv w" transform="translate(1120.31 1119.6) matrix(1 .001 0 1 0 0) scale(1 1.06)">0.56</text>
<text class="cv w" transform="translate(1159.81 1119.6) matrix(1 .001 0 1 0 0) scale(1 1.06)">0.57</text>
<text class="cv w" transform="translate(1199.31 1119.6) matrix(1 .001 0 1 0 0) scale(1 1.06)">0.56</text>
<text class="cv w" transform="translate(1238.81 1119.6) matrix(1 .001 0 1 0 0) scale(1 1.06)">0.57</text>
<text class="cv w" transform="translate(1278.31 1119.6) matrix(1 .001 0 1 0 0) scale(1 1.06)">0.57</text>
<text class="cv w" transform="translate(1317.8 1119.6) matrix(1 .001 0 1 0 0) scale(1 1.06)">0.56</text>
<text class="cv w" transform="translate(1357.3 1119.6) matrix(1 .001 0 1 0 0) scale(1 1.06)">0.57</text>
<text class="cv w" transform="translate(1396.8 1119.6) matrix(1 .001 0 1 0 0) scale(1 1.06)">0.57</text>
<text class="cv w" transform="translate(883.32 1155.78) matrix(1 .001 0 1 0 0) scale(1 1.06)">0.58</text>
<text class="cv w" transform="translate(922.82 1155.78) matrix(1 .001 0 1 0 0) scale(1 1.06)">0.57</text>
<text class="cv w" transform="translate(962.32 1155.78) matrix(1 .001 0 1 0 0) scale(1 1.06)">0.60</text>
<text class="cv w" transform="translate(1001.81 1155.78) matrix(1 .001 0 1 0 0) scale(1 1.06)">0.67</text>
<text class="cv w" transform="translate(1041.31 1155.78) matrix(1 .001 0 1 0 0) scale(1 1.06)">0.55</text>
<text class="cv w" transform="translate(1080.81 1155.78) matrix(1 .001 0 1 0 0) scale(1 1.06)">0.59</text>
<text class="cv w" transform="translate(1120.31 1155.78) matrix(1 .001 0 1 0 0) scale(1 1.06)">0.53</text>
<text class="cv w" transform="translate(1159.81 1155.78) matrix(1 .001 0 1 0 0) scale(1 1.06)">0.55</text>
<text class="cv w" transform="translate(1199.31 1155.78) matrix(1 .001 0 1 0 0) scale(1 1.06)">0.54</text>
<text class="cv w" transform="translate(1238.81 1155.78) matrix(1 .001 0 1 0 0) scale(1 1.06)">0.54</text>
<text class="cv w" transform="translate(1278.31 1155.78) matrix(1 .001 0 1 0 0) scale(1 1.06)">0.55</text>
<text class="cv w" transform="translate(1317.8 1155.78) matrix(1 .001 0 1 0 0) scale(1 1.06)">0.54</text>
<text class="cv w" transform="translate(1357.3 1155.78) matrix(1 .001 0 1 0 0) scale(1 1.06)">0.54</text>
<text class="cv w" transform="translate(1396.8 1155.78) matrix(1 .001 0 1 0 0) scale(1 1.06)">0.55</text>
</g>
<rect class="ax" x="864.27" y="659.7" width="552.98" height="507.5"/>
<path class="tk" d="M855.17 678.18H864.27"/>
<text class="tl" text-anchor="end" transform="translate(848.27 686.53) matrix(1 .001 0 1 0 0) scale(1 1.02)">X14</text>
<path class="tk" d="M855.17 714.45H864.27"/>
<text class="tl" text-anchor="end" transform="translate(848.27 722.8) matrix(1 .001 0 1 0 0) scale(1 1.02)">X13</text>
<path class="tk" d="M855.17 750.71H864.27"/>
<text class="tl" text-anchor="end" transform="translate(848.27 759.06) matrix(1 .001 0 1 0 0) scale(1 1.02)">X12</text>
<path class="tk" d="M855.17 786.97H864.27"/>
<text class="tl" text-anchor="end" transform="translate(848.27 795.32) matrix(1 .001 0 1 0 0) scale(1 1.02)">X11</text>
<path class="tk" d="M855.17 823.24H864.27"/>
<text class="tl" text-anchor="end" transform="translate(848.27 831.59) matrix(1 .001 0 1 0 0) scale(1 1.02)">X10</text>
<path class="tk" d="M855.17 859.5H864.27"/>
<text class="tl" text-anchor="end" transform="translate(848.27 867.85) matrix(1 .001 0 1 0 0) scale(1 1.02)">X9</text>
<path class="tk" d="M855.17 895.77H864.27"/>
<text class="tl" text-anchor="end" transform="translate(848.27 904.12) matrix(1 .001 0 1 0 0) scale(1 1.02)">X8</text>
<path class="tk" d="M855.17 932.03H864.27"/>
<text class="tl" text-anchor="end" transform="translate(848.27 940.38) matrix(1 .001 0 1 0 0) scale(1 1.02)">X7</text>
<path class="tk" d="M855.17 968.3H864.27"/>
<text class="tl" text-anchor="end" transform="translate(848.27 976.65) matrix(1 .001 0 1 0 0) scale(1 1.02)">X6</text>
<path class="tk" d="M855.17 1004.56H864.27"/>
<text class="tl" text-anchor="end" transform="translate(848.27 1012.91) matrix(1 .001 0 1 0 0) scale(1 1.02)">X5</text>
<path class="tk" d="M855.17 1040.83H864.27"/>
<text class="tl" text-anchor="end" transform="translate(848.27 1049.17) matrix(1 .001 0 1 0 0) scale(1 1.02)">X4</text>
<path class="tk" d="M855.17 1077.09H864.27"/>
<text class="tl" text-anchor="end" transform="translate(848.27 1085.44) matrix(1 .001 0 1 0 0) scale(1 1.02)">X3</text>
<path class="tk" d="M855.17 1113.35H864.27"/>
<text class="tl" text-anchor="end" transform="translate(848.27 1121.7) matrix(1 .001 0 1 0 0) scale(1 1.02)">X2</text>
<path class="tk" d="M855.17 1149.62H864.27"/>
<text class="tl" text-anchor="end" transform="translate(848.27 1157.97) matrix(1 .001 0 1 0 0) scale(1 1.02)">X1</text>
<path class="tk" d="M883.82 1167.2V1175.7"/>
<text class="tl" text-anchor="end" transform="translate(896.22 1190.7) rotate(-45) scale(1 1.02)">X2</text>
<path class="tk" d="M923.32 1167.2V1175.7"/>
<text class="tl" text-anchor="end" transform="translate(935.72 1190.7) rotate(-45) scale(1 1.02)">X3</text>
<path class="tk" d="M962.82 1167.2V1175.7"/>
<text class="tl" text-anchor="end" transform="translate(975.22 1190.7) rotate(-45) scale(1 1.02)">X4</text>
<path class="tk" d="M1002.31 1167.2V1175.7"/>
<text class="tl" text-anchor="end" transform="translate(1014.72 1190.7) rotate(-45) scale(1 1.02)">X5</text>
<path class="tk" d="M1041.81 1167.2V1175.7"/>
<text class="tl" text-anchor="end" transform="translate(1054.21 1190.7) rotate(-45) scale(1 1.02)">X6</text>
<path class="tk" d="M1081.31 1167.2V1175.7"/>
<text class="tl" text-anchor="end" transform="translate(1093.71 1190.7) rotate(-45) scale(1 1.02)">X7</text>
<path class="tk" d="M1120.81 1167.2V1175.7"/>
<text class="tl" text-anchor="end" transform="translate(1133.21 1190.7) rotate(-45) scale(1 1.02)">X8</text>
<path class="tk" d="M1160.31 1167.2V1175.7"/>
<text class="tl" text-anchor="end" transform="translate(1172.71 1190.7) rotate(-45) scale(1 1.02)">X9</text>
<path class="tk" d="M1199.81 1167.2V1175.7"/>
<text class="tl" text-anchor="end" transform="translate(1212.21 1190.7) rotate(-45) scale(1 1.02)">X10</text>
<path class="tk" d="M1239.31 1167.2V1175.7"/>
<text class="tl" text-anchor="end" transform="translate(1251.71 1190.7) rotate(-45) scale(1 1.02)">X11</text>
<path class="tk" d="M1278.81 1167.2V1175.7"/>
<text class="tl" text-anchor="end" transform="translate(1291.21 1190.7) rotate(-45) scale(1 1.02)">X12</text>
<path class="tk" d="M1318.3 1167.2V1175.7"/>
<text class="tl" text-anchor="end" transform="translate(1330.7 1190.7) rotate(-45) scale(1 1.02)">X13</text>
<path class="tk" d="M1357.8 1167.2V1175.7"/>
<text class="tl" text-anchor="end" transform="translate(1370.2 1190.7) rotate(-45) scale(1 1.02)">X14</text>
<path class="tk" d="M1397.3 1167.2V1175.7"/>
<text class="tl" text-anchor="end" transform="translate(1409.7 1190.7) rotate(-45) scale(1 1.02)">X15</text>
<text class="tt" style="font-size:32.4px" transform="translate(863.9 653.3) matrix(1 .001 0 1 0 0) scale(1 1.02)">(d) q-value (STI-Sichuan 2012-2023)</text>
<g shape-rendering="crispEdges">
<rect x="1433.9" y="658.2" width="33.1" height="17.4" fill="#743a0b"/>
<rect x="1433.9" y="675.1" width="33.1" height="17.4" fill="#7d4111"/>
<rect x="1433.9" y="692.01" width="33.1" height="17.4" fill="#864818"/>
<rect x="1433.9" y="708.91" width="33.1" height="17.4" fill="#8f4f1e"/>
<rect x="1433.9" y="725.81" width="33.1" height="17.4" fill="#985724"/>
<rect x="1433.9" y="742.72" width="33.1" height="17.4" fill="#a05e2a"/>
<rect x="1433.9" y="759.62" width="33.1" height="17.4" fill="#a96530"/>
<rect x="1433.9" y="776.52" width="33.1" height="17.4" fill="#b26c36"/>
<rect x="1433.9" y="793.43" width="33.1" height="17.4" fill="#bb743d"/>
<rect x="1433.9" y="810.33" width="33.1" height="17.4" fill="#c47b43"/>
<rect x="1433.9" y="827.23" width="33.1" height="17.4" fill="#cc8249"/>
<rect x="1433.9" y="844.14" width="33.1" height="17.4" fill="#d58a4f"/>
<rect x="1433.9" y="861.04" width="33.1" height="17.4" fill="#de9156"/>
<rect x="1433.9" y="877.94" width="33.1" height="17.4" fill="#e7985c"/>
<rect x="1433.9" y="894.85" width="33.1" height="17.4" fill="#f09f62"/>
<rect x="1433.9" y="911.75" width="33.1" height="17.4" fill="#f4a568"/>
<rect x="1433.9" y="928.65" width="33.1" height="17.4" fill="#f5a86e"/>
<rect x="1433.9" y="945.56" width="33.1" height="17.4" fill="#f5ac74"/>
<rect x="1433.9" y="962.46" width="33.1" height="17.4" fill="#f6b079"/>
<rect x="1433.9" y="979.36" width="33.1" height="17.4" fill="#f6b47f"/>
<rect x="1433.9" y="996.27" width="33.1" height="17.4" fill="#f7b785"/>
<rect x="1433.9" y="1013.17" width="33.1" height="17.4" fill="#f7bb8b"/>
<rect x="1433.9" y="1030.07" width="33.1" height="17.4" fill="#f8be90"/>
<rect x="1433.9" y="1046.98" width="33.1" height="17.4" fill="#f8c296"/>
<rect x="1433.9" y="1063.88" width="33.1" height="17.4" fill="#f8c69c"/>
<rect x="1433.9" y="1080.78" width="33.1" height="17.4" fill="#f9caa2"/>
<rect x="1433.9" y="1097.69" width="33.1" height="17.4" fill="#f9cda8"/>
<rect x="1433.9" y="1114.59" width="33.1" height="17.4" fill="#fad1ae"/>
<rect x="1433.9" y="1131.49" width="33.1" height="17.4" fill="#fad4b3"/>
<rect x="1433.9" y="1148.4" width="33.1" height="16.9" fill="#fbd8b9"/>
</g>
<rect class="cb" x="1433.9" y="658.2" width="33.1" height="507.1"/>
<path class="cb" d="M1467 658.2H1475.7"/>
<text class="cl" transform="translate(1485.9 666.35) matrix(1 .001 0 1 0 0) scale(1 1)">0.68</text>
<path class="cb" d="M1467 759.62H1475.7"/>
<text class="cl" transform="translate(1485.9 767.77) matrix(1 .001 0 1 0 0) scale(1 1)">0.56</text>
<path class="cb" d="M1467 861.04H1475.7"/>
<text class="cl" transform="translate(1485.9 869.19) matrix(1 .001 0 1 0 0) scale(1 1)">0.45</text>
<path class="cb" d="M1467 962.46H1475.7"/>
<text class="cl" transform="translate(1485.9 970.61) matrix(1 .001 0 1 0 0) scale(1 1)">0.33</text>
<path class="cb" d="M1467 1063.88H1475.7"/>
<text class="cl" transform="translate(1485.9 1072.03) matrix(1 .001 0 1 0 0) scale(1 1)">0.22</text>
<path class="cb" d="M1467 1165.3H1475.7"/>
<text class="cl" transform="translate(1485.9 1173.45) matrix(1 .001 0 1 0 0) scale(1 1)">0.10</text>
</g>
</svg>
</body></html>
